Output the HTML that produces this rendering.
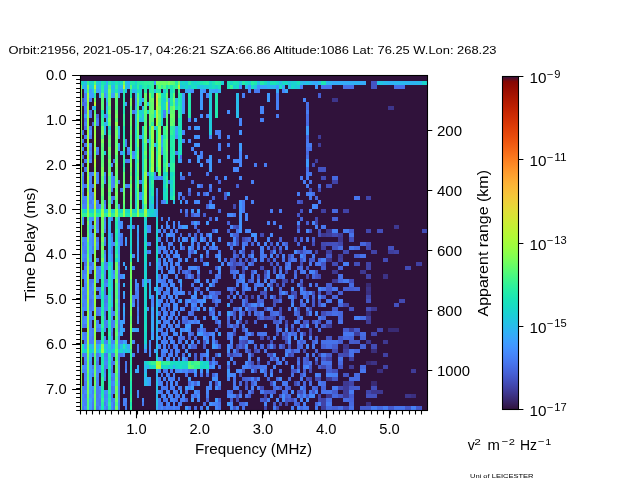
<!DOCTYPE html>
<html><head><meta charset="utf-8"><title>Ionogram</title>
<style>html,body{margin:0;padding:0;background:#fff;width:640px;height:480px;overflow:hidden}svg{display:block;font-family:"Liberation Sans",sans-serif}</style>
</head><body>
<svg width="640" height="480" viewBox="0 0 640 480" font-family="Liberation Sans, sans-serif" fill="#000"><clipPath id="axclip"><rect x="80.50" y="75.50" width="347.00" height="335.00"/></clipPath><g clip-path="url(#axclip)" shape-rendering="crispEdges"><rect x="80.50" y="75.50" width="347.00" height="335.00" fill="#30123b"/><path fill="#1fe9af" d="M79.7 81h2.3v4.1h-2.3zM132.1 81h2.4v4.1h-2.4zM115.4 89.2h2.4v4.1h-2.4zM122.6 93.3h2.4v4.2h-2.4zM122.6 101.6h2.4v4.1h-2.4zM170.3 101.6h2.4v4.1h-2.4zM122.6 126.3h2.4v4.1h-2.4zM163.2 134.5h2.3v4.1h-2.3zM148.8 138.6h2.4v4.1h-2.4zM148.8 155.1h2.4v4.1h-2.4zM170.3 155.1h2.4v4.1h-2.4zM163.2 159.2h2.3v4.1h-2.3zM151.2 188h2.4v4.1h-2.4zM165.5 196.2h2.4v4.1h-2.4zM115.4 233.3h2.4v4.1h-2.4zM108.3 274.4h2.4v4.1h-2.4zM101.1 290.9h2.4v4.1h-2.4zM101.1 299.1h2.4v4.1h-2.4zM108.3 336.1h2.4v4.1h-2.4zM122.6 344.4h2.4v4.1h-2.4zM101.1 352.6h2.4v4.1h-2.4zM108.3 356.7h2.4v4.1h-2.4zM129.8 364.9h2.3v4.2h-2.3zM101.1 373.2h2.4v4.1h-2.4zM101.1 389.6h2.4v4.1h-2.4zM129.8 389.6h2.3v4.1h-2.3z"/><path fill="#18d7ca" d="M82 81h2.4v4.1h-2.4zM110.7 81h2.4v4.1h-2.4zM117.8 81h2.4v4.1h-2.4zM209.3 85.1h3v4.1h-3zM160.8 105.7h2.4v4.1h-2.4zM153.6 109.8h2.4v4.1h-2.4zM160.8 122.2h2.4v4.1h-2.4zM134.5 138.6h2.4v4.1h-2.4zM141.7 138.6h2.4v4.1h-2.4zM141.7 159.2h2.4v4.1h-2.4zM134.5 163.3h2.4v4.1h-2.4zM148.8 175.6h2.4v4.2h-2.4zM134.5 183.9h2.4v4.1h-2.4zM163.2 196.2h2.3v4.1h-2.3zM165.5 200.3h2.4v4.1h-2.4zM127.4 208.6h2.4v4.1h-2.4zM144.1 216.8h2.4v4.1h-2.4zM156 237.4h2.4v4.1h-2.4zM129.8 249.7h2.3v4.1h-2.3zM144.1 332h2.4v4.1h-2.4zM144.1 336.1h2.4v4.1h-2.4zM177.5 360.8h2.4v4.1h-2.4zM148.8 364.9h2.4v4.2h-2.4zM170.3 364.9h2.4v4.2h-2.4zM182.2 364.9h3.1v4.2h-3.1zM203.3 364.9h3v4.2h-3z"/><path fill="#25c0e7" d="M84.4 81h2.4v4.1h-2.4zM98.7 81h2.4v4.1h-2.4zM257.4 81h3v4.1h-3zM278.5 81h3v4.1h-3zM299.5 81h3.1v4.1h-3.1zM89.2 85.1h2.4v4.1h-2.4zM110.7 85.1h2.4v4.1h-2.4zM117.8 85.1h2.4v4.1h-2.4zM197.3 85.1h3v4.1h-3zM245.4 85.1h3v4.1h-3zM134.5 118h2.4v4.2h-2.4zM103.5 151h2.4v4.1h-2.4zM172.7 200.3h2.4v4.1h-2.4zM151.2 204.4h2.4v4.2h-2.4zM108.3 233.3h2.4v4.1h-2.4zM110.7 262.1h2.4v4.1h-2.4zM156 262.1h2.4v4.1h-2.4zM156 270.3h2.4v4.1h-2.4zM110.7 282.6h2.4v4.2h-2.4zM156 290.9h2.4v4.1h-2.4zM156 385.5h2.4v4.1h-2.4z"/><path fill="#35f394" d="M86.8 81h2.4v4.1h-2.4zM160.8 85.1h2.4v4.1h-2.4zM167.9 85.1h2.4v4.1h-2.4zM230.4 85.1h3v4.1h-3zM177.5 89.2h2.4v4.1h-2.4zM177.5 113.9h2.4v4.1h-2.4zM122.6 122.2h2.4v4.1h-2.4zM148.8 130.4h2.4v4.1h-2.4zM170.3 130.4h2.4v4.1h-2.4zM163.2 138.6h2.3v4.1h-2.3zM122.6 146.8h2.4v4.2h-2.4zM172.7 163.3h2.4v4.1h-2.4zM172.7 196.2h2.4v4.1h-2.4zM129.8 253.8h2.3v4.1h-2.3zM101.1 262.1h2.4v4.1h-2.4zM101.1 315.6h2.4v4.1h-2.4zM101.1 323.8h2.4v4.1h-2.4zM153.6 360.8h2.4v4.1h-2.4zM194.3 364.9h3v4.2h-3zM101.1 397.9h2.4v4.1h-2.4z"/><path fill="#18d9c8" d="M89.2 81h4.8v4.1h-4.8zM209.3 81h3v4.1h-3zM230.4 81h3v4.1h-3zM185.3 85.1h3v4.1h-3zM290.5 85.1h3v4.1h-3zM146.5 109.8h2.3v4.1h-2.3zM153.6 113.9h2.4v4.1h-2.4zM134.5 134.5h2.4v4.1h-2.4zM177.5 142.7h2.4v4.1h-2.4zM170.3 171.5h2.4v4.1h-2.4zM163.2 183.9h2.3v4.1h-2.3zM141.7 196.2h2.4v4.1h-2.4zM134.5 200.3h2.4v4.1h-2.4zM113.1 208.6h2.3v4.1h-2.3zM120.2 208.6h2.4v4.1h-2.4zM141.7 208.6h2.4v4.1h-2.4zM151.2 208.6h2.4v4.1h-2.4zM156 220.9h2.4v4.1h-2.4zM129.8 225h2.3v4.1h-2.3zM144.1 229.1h2.4v4.2h-2.4zM129.8 233.3h2.3v4.1h-2.3zM129.8 237.4h2.3v4.1h-2.3zM129.8 241.5h2.3v4.1h-2.3zM156 241.5h2.4v4.1h-2.4zM156 245.6h2.4v4.1h-2.4zM144.1 315.6h2.4v4.1h-2.4zM144.1 319.7h2.4v4.1h-2.4zM89.2 348.5h2.4v4.1h-2.4zM206.3 360.8h3v4.1h-3zM200.3 364.9h3v4.2h-3z"/><path fill="#55fa76" d="M94 81h2.4v4.1h-2.4zM108.3 85.1h2.4v4.1h-2.4zM129.8 85.1h2.3v4.1h-2.3zM172.7 93.3h2.4v4.2h-2.4zM148.8 101.6h2.4v4.1h-2.4zM108.3 105.7h2.4v4.1h-2.4zM136.9 105.7h2.4v4.1h-2.4zM148.8 105.7h2.4v4.1h-2.4zM170.3 105.7h2.4v4.1h-2.4zM136.9 109.8h2.4v4.1h-2.4zM158.4 109.8h2.4v4.1h-2.4zM108.3 113.9h2.4v4.1h-2.4zM144.1 113.9h2.4v4.1h-2.4zM151.2 118h2.4v4.2h-2.4zM165.5 118h2.4v4.2h-2.4zM108.3 134.5h2.4v4.1h-2.4zM165.5 134.5h2.4v4.1h-2.4zM108.3 142.7h2.4v4.1h-2.4zM101.1 146.8h2.4v4.2h-2.4zM144.1 146.8h2.4v4.2h-2.4zM165.5 155.1h2.4v4.1h-2.4zM165.5 159.2h2.4v4.1h-2.4zM129.8 171.5h2.3v4.1h-2.3zM108.3 175.6h2.4v4.2h-2.4zM108.3 179.8h2.4v4.1h-2.4zM115.4 179.8h2.4v4.1h-2.4zM108.3 200.3h2.4v4.1h-2.4zM115.4 204.4h2.4v4.2h-2.4zM86.8 216.8h2.4v4.1h-2.4zM101.1 233.3h2.4v4.1h-2.4zM86.8 241.5h2.4v4.1h-2.4zM115.4 274.4h2.4v4.1h-2.4zM115.4 290.9h2.4v4.1h-2.4zM115.4 307.3h2.4v4.1h-2.4zM115.4 327.9h2.4v4.1h-2.4zM115.4 344.4h2.4v4.1h-2.4zM129.8 344.4h2.3v4.1h-2.3zM115.4 373.2h2.4v4.1h-2.4zM115.4 381.4h2.4v4.1h-2.4zM86.8 397.9h2.4v4.1h-2.4z"/><path fill="#1ccdd8" d="M96.4 81h2.3v4.1h-2.3zM185.3 81h3v4.1h-3zM293.5 85.1h3v4.1h-3zM163.2 89.2h2.3v4.1h-2.3zM94 105.7h2.4v4.1h-2.4zM160.8 113.9h2.4v4.1h-2.4zM134.5 142.7h2.4v4.1h-2.4zM141.7 142.7h2.4v4.1h-2.4zM134.5 159.2h2.4v4.1h-2.4zM134.5 167.4h2.4v4.1h-2.4zM141.7 171.5h2.4v4.1h-2.4zM163.2 179.8h2.3v4.1h-2.3zM170.3 179.8h2.4v4.1h-2.4zM141.7 192.1h2.4v4.1h-2.4zM134.5 204.4h2.4v4.2h-2.4zM96.4 208.6h2.3v4.1h-2.3zM103.5 208.6h4.8v4.1h-4.8zM151.2 212.7h2.4v4.1h-2.4zM144.1 220.9h2.4v4.1h-2.4zM144.1 225h2.4v4.1h-2.4zM144.1 237.4h2.4v4.1h-2.4zM129.8 245.6h2.3v4.1h-2.3zM144.1 266.2h2.4v4.1h-2.4zM144.1 360.8h2.4v4.1h-2.4z"/><path fill="#1de7b2" d="M101.1 81h2.4v4.1h-2.4zM115.4 81h2.4v4.1h-2.4zM233.4 81h3v4.1h-3zM320.6 81h5.6v4.1h-5.6zM141.7 85.1h2.4v4.1h-2.4zM165.5 85.1h2.4v4.1h-2.4zM170.3 85.1h2.4v4.1h-2.4zM136.9 89.2h2.4v4.1h-2.4zM170.3 93.3h2.4v4.2h-2.4zM122.6 105.7h2.4v4.1h-2.4zM101.1 109.8h2.4v4.1h-2.4zM122.6 109.8h2.4v4.1h-2.4zM177.5 118h2.4v4.2h-2.4zM122.6 130.4h2.4v4.1h-2.4zM156 142.7h2.4v4.1h-2.4zM156 146.8h2.4v4.2h-2.4zM170.3 146.8h2.4v4.2h-2.4zM170.3 151h2.4v4.1h-2.4zM172.7 155.1h2.4v4.1h-2.4zM172.7 159.2h2.4v4.1h-2.4zM156 167.4h2.4v4.1h-2.4zM165.5 171.5h2.4v4.1h-2.4zM172.7 171.5h2.4v4.1h-2.4zM151.2 175.6h2.4v4.2h-2.4zM165.5 192.1h2.4v4.1h-2.4zM125 212.7h4.8v4.1h-4.8zM146.5 212.7h2.3v4.1h-2.3zM115.4 257.9h2.4v4.2h-2.4zM108.3 262.1h2.4v4.1h-2.4zM101.1 295h2.4v4.1h-2.4zM101.1 356.7h2.4v4.1h-2.4zM108.3 369.1h2.4v4.1h-2.4zM129.8 385.5h2.3v4.1h-2.3zM108.3 393.7h2.4v4.2h-2.4zM129.8 402h2.3v4.1h-2.3z"/><path fill="#18dec0" d="M103.5 81h2.4v4.1h-2.4zM278.5 85.1h3v4.1h-3zM170.3 89.2h2.4v4.1h-2.4zM160.8 93.3h2.4v4.2h-2.4zM160.8 97.5h2.4v4.1h-2.4zM175.1 105.7h2.4v4.1h-2.4zM134.5 171.5h2.4v4.1h-2.4zM148.8 171.5h2.4v4.1h-2.4zM170.3 175.6h2.4v4.2h-2.4zM134.5 188h2.4v4.1h-2.4zM82 208.6h2.4v4.1h-2.4zM98.7 208.6h2.4v4.1h-2.4zM117.8 208.6h2.4v4.1h-2.4zM144.1 245.6h2.4v4.1h-2.4zM156 249.7h2.4v4.1h-2.4zM144.1 307.3h2.4v4.1h-2.4zM108.3 344.4h2.4v4.1h-2.4zM103.5 348.5h2.4v4.1h-2.4zM146.5 360.8h2.3v4.1h-2.3zM170.3 360.8h2.4v4.1h-2.4zM179.9 360.8h5.4v4.1h-5.4zM165.5 364.9h2.4v4.2h-2.4z"/><path fill="#2fb2f4" d="M105.9 81h2.4v4.1h-2.4zM354.4 81h5.6v4.1h-5.6zM388.2 81h5.6v4.1h-5.6zM103.5 85.1h4.8v4.1h-4.8zM113.1 85.1h2.3v4.1h-2.3zM127.4 85.1h2.4v4.1h-2.4zM266.5 85.1h3v4.1h-3zM132.1 89.2h2.4v4.1h-2.4zM103.5 126.3h2.4v4.1h-2.4zM156 208.6h2.4v4.1h-2.4zM148.8 278.5h2.4v4.1h-2.4zM156 278.5h2.4v4.1h-2.4zM148.8 282.6h2.4v4.2h-2.4zM148.8 286.8h2.4v4.1h-2.4zM153.6 286.8h2.4v4.1h-2.4zM110.7 295h2.4v4.1h-2.4zM105.9 348.5h2.4v4.1h-2.4zM146.5 364.9h2.3v4.2h-2.3zM144.1 369.1h2.4v4.1h-2.4zM156 406.1h2.4v4.1h-2.4z"/><path fill="#22ebaa" d="M108.3 81h2.4v4.1h-2.4zM129.8 81h2.3v4.1h-2.3zM139.3 81h2.4v4.1h-2.4zM203.3 81h3v4.1h-3zM260.4 81h3.1v4.1h-3.1zM129.8 89.2h2.3v4.1h-2.3zM158.4 89.2h2.4v4.1h-2.4zM177.5 93.3h2.4v4.2h-2.4zM170.3 97.5h2.4v4.1h-2.4zM148.8 126.3h2.4v4.1h-2.4zM172.7 130.4h2.4v4.1h-2.4zM172.7 134.5h2.4v4.1h-2.4zM170.3 138.6h2.4v4.1h-2.4zM148.8 142.7h2.4v4.1h-2.4zM148.8 151h2.4v4.1h-2.4zM122.6 163.3h2.4v4.1h-2.4zM172.7 179.8h2.4v4.1h-2.4zM172.7 183.9h2.4v4.1h-2.4zM165.5 188h2.4v4.1h-2.4zM151.2 192.1h2.4v4.1h-2.4zM172.7 192.1h2.4v4.1h-2.4zM98.7 212.7h2.4v4.1h-2.4zM115.4 237.4h2.4v4.1h-2.4zM115.4 245.6h2.4v4.1h-2.4zM115.4 249.7h2.4v4.1h-2.4zM108.3 278.5h2.4v4.1h-2.4zM101.1 303.2h2.4v4.1h-2.4zM101.1 307.3h2.4v4.1h-2.4zM101.1 340.2h2.4v4.2h-2.4zM108.3 360.8h2.4v4.1h-2.4zM148.8 360.8h2.4v4.1h-2.4zM129.8 369.1h2.3v4.1h-2.3zM108.3 381.4h2.4v4.1h-2.4z"/><path fill="#1bd0d5" d="M113.1 81h2.3v4.1h-2.3zM179.9 81h2.3v4.1h-2.3zM221.3 81h3.1v4.1h-3.1zM290.5 81h3v4.1h-3zM139.3 85.1h2.4v4.1h-2.4zM233.4 85.1h3v4.1h-3zM139.3 97.5h2.4v4.1h-2.4zM139.3 109.8h2.4v4.1h-2.4zM160.8 109.8h2.4v4.1h-2.4zM177.5 138.6h2.4v4.1h-2.4zM134.5 146.8h2.4v4.2h-2.4zM141.7 151h2.4v4.1h-2.4zM148.8 179.8h2.4v4.1h-2.4zM163.2 188h2.3v4.1h-2.3zM91.6 208.6h2.4v4.1h-2.4zM110.7 208.6h2.4v4.1h-2.4zM134.5 208.6h2.4v4.1h-2.4zM148.8 208.6h2.4v4.1h-2.4zM156 216.8h2.4v4.1h-2.4zM156 229.1h2.4v4.2h-2.4zM144.1 262.1h2.4v4.1h-2.4zM84.4 348.5h2.4v4.1h-2.4zM185.3 364.9h3v4.2h-3z"/><path fill="#18ddc2" d="M120.2 81h2.4v4.1h-2.4zM146.5 85.1h2.3v4.1h-2.3zM191.3 85.1h6v4.1h-6zM236.4 85.1h3v4.1h-3zM139.3 89.2h2.4v4.1h-2.4zM163.2 93.3h2.3v4.2h-2.3zM163.2 101.6h2.3v4.1h-2.3zM177.5 130.4h2.4v4.1h-2.4zM177.5 146.8h2.4v4.2h-2.4zM134.5 175.6h2.4v4.2h-2.4zM141.7 179.8h2.4v4.1h-2.4zM141.7 183.9h2.4v4.1h-2.4zM148.8 183.9h2.4v4.1h-2.4zM141.7 188h2.4v4.1h-2.4zM170.3 196.2h2.4v4.1h-2.4zM141.7 200.3h2.4v4.1h-2.4zM125 208.6h2.4v4.1h-2.4zM156 225h2.4v4.1h-2.4zM144.1 241.5h2.4v4.1h-2.4zM156 253.8h2.4v4.1h-2.4zM156 257.9h2.4v4.2h-2.4zM144.1 323.8h2.4v4.1h-2.4zM144.1 327.9h2.4v4.1h-2.4zM98.7 348.5h2.4v4.1h-2.4zM175.1 360.8h2.4v4.1h-2.4zM151.2 364.9h2.4v4.2h-2.4z"/><path fill="#71fe5f" d="M122.6 81h2.4v4.1h-2.4zM177.5 81h2.4v4.1h-2.4zM108.3 89.2h2.4v4.1h-2.4zM158.4 93.3h2.4v4.2h-2.4zM129.8 97.5h2.3v4.1h-2.3zM108.3 109.8h2.4v4.1h-2.4zM136.9 118h2.4v4.2h-2.4zM136.9 126.3h2.4v4.1h-2.4zM144.1 126.3h2.4v4.1h-2.4zM165.5 126.3h2.4v4.1h-2.4zM115.4 130.4h2.4v4.1h-2.4zM144.1 130.4h2.4v4.1h-2.4zM144.1 138.6h2.4v4.1h-2.4zM136.9 142.7h2.4v4.1h-2.4zM165.5 167.4h2.4v4.1h-2.4zM158.4 171.5h2.4v4.1h-2.4zM129.8 183.9h2.3v4.1h-2.3zM136.9 183.9h2.4v4.1h-2.4zM101.1 257.9h2.4v4.2h-2.4zM115.4 278.5h2.4v4.1h-2.4zM129.8 299.1h2.3v4.1h-2.3zM129.8 327.9h2.3v4.1h-2.3zM94 364.9h2.4v4.2h-2.4zM86.8 369.1h2.4v4.1h-2.4zM86.8 381.4h2.4v4.1h-2.4zM94 381.4h2.4v4.1h-2.4zM115.4 406.1h2.4v4.1h-2.4z"/><path fill="#23c3e4" d="M125 81h2.4v4.1h-2.4zM305.6 81h3v4.1h-3zM376.9 81h5.6v4.1h-5.6zM125 85.1h2.4v4.1h-2.4zM200.3 85.1h3v4.1h-3zM110.7 89.2h2.4v4.1h-2.4zM105.9 109.8h2.4v4.1h-2.4zM134.5 113.9h2.4v4.1h-2.4zM141.7 118h2.4v4.2h-2.4zM156 266.2h2.4v4.1h-2.4zM156 295h2.4v4.1h-2.4zM110.7 303.2h2.4v4.1h-2.4zM156 319.7h2.4v4.1h-2.4zM91.6 348.5h2.4v4.1h-2.4zM117.8 348.5h2.4v4.1h-2.4zM144.1 364.9h2.4v4.2h-2.4zM144.1 373.2h2.4v4.1h-2.4zM156 389.6h2.4v4.1h-2.4zM156 402h2.4v4.1h-2.4z"/><path fill="#2eb4f2" d="M127.4 81h2.4v4.1h-2.4zM326.2 81h5.7v4.1h-5.7zM410.7 81h5.6v4.1h-5.6zM96.4 85.1h2.3v4.1h-2.3zM269.5 85.1h6v4.1h-6zM209.3 89.2h3v4.1h-3zM105.9 93.3h2.4v4.2h-2.4zM139.3 101.6h2.4v4.1h-2.4zM134.5 105.7h2.4v4.1h-2.4zM117.8 130.4h2.4v4.1h-2.4zM108.3 216.8h2.4v4.1h-2.4zM110.7 299.1h2.4v4.1h-2.4zM156 315.6h2.4v4.1h-2.4zM156 332h2.4v4.1h-2.4zM156 348.5h2.4v4.1h-2.4z"/><path fill="#1ad4d0" d="M134.5 81h2.4v4.1h-2.4zM194.3 81h3v4.1h-3zM248.4 81h3v4.1h-3zM293.5 81h3v4.1h-3zM91.6 85.1h2.4v4.1h-2.4zM132.1 85.1h2.4v4.1h-2.4zM141.7 109.8h2.4v4.1h-2.4zM177.5 134.5h2.4v4.1h-2.4zM122.6 151h2.4v4.1h-2.4zM134.5 151h2.4v4.1h-2.4zM177.5 151h2.4v4.1h-2.4zM141.7 155.1h2.4v4.1h-2.4zM134.5 192.1h2.4v4.1h-2.4zM170.3 192.1h2.4v4.1h-2.4zM151.2 196.2h2.4v4.1h-2.4zM84.4 208.6h2.4v4.1h-2.4zM129.8 216.8h2.3v4.1h-2.3zM156 233.3h2.4v4.1h-2.4zM144.1 270.3h2.4v4.1h-2.4zM144.1 311.4h2.4v4.2h-2.4zM144.1 340.2h2.4v4.2h-2.4zM82 344.4h2.4v4.1h-2.4zM82 348.5h2.4v4.1h-2.4zM125 348.5h2.4v4.1h-2.4zM156 356.7h2.4v4.1h-2.4z"/><path fill="#25eca7" d="M136.9 81h2.4v4.1h-2.4zM141.7 81h2.4v4.1h-2.4zM175.1 81h2.4v4.1h-2.4zM188.3 81h3v4.1h-3zM218.3 81h3v4.1h-3zM242.4 81h3v4.1h-3zM251.4 81h3v4.1h-3zM144.1 85.1h2.4v4.1h-2.4zM144.1 89.2h2.4v4.1h-2.4zM156 89.2h2.4v4.1h-2.4zM129.8 93.3h2.3v4.2h-2.3zM177.5 97.5h2.4v4.1h-2.4zM101.1 113.9h2.4v4.1h-2.4zM177.5 122.2h2.4v4.1h-2.4zM148.8 134.5h2.4v4.1h-2.4zM156 134.5h2.4v4.1h-2.4zM170.3 142.7h2.4v4.1h-2.4zM163.2 155.1h2.3v4.1h-2.3zM148.8 163.3h2.4v4.1h-2.4zM172.7 175.6h2.4v4.2h-2.4zM151.2 183.9h2.4v4.1h-2.4zM172.7 188h2.4v4.1h-2.4zM96.4 212.7h2.3v4.1h-2.3zM110.7 212.7h2.4v4.1h-2.4zM117.8 212.7h2.4v4.1h-2.4zM101.1 270.3h2.4v4.1h-2.4zM101.1 282.6h2.4v4.2h-2.4zM108.3 290.9h2.4v4.1h-2.4zM108.3 323.8h2.4v4.1h-2.4zM108.3 327.9h2.4v4.1h-2.4zM129.8 356.7h2.3v4.1h-2.3zM108.3 373.2h2.4v4.1h-2.4zM108.3 377.3h2.4v4.1h-2.4zM101.1 393.7h2.4v4.2h-2.4zM108.3 397.9h2.4v4.1h-2.4zM108.3 406.1h2.4v4.1h-2.4z"/><path fill="#2cf09e" d="M144.1 81h2.4v4.1h-2.4zM151.2 81h2.4v4.1h-2.4zM151.2 89.2h2.4v4.1h-2.4zM165.5 89.2h2.4v4.1h-2.4zM172.7 146.8h2.4v4.2h-2.4zM156 151h2.4v4.1h-2.4zM122.6 155.1h2.4v4.1h-2.4zM156 159.2h2.4v4.1h-2.4zM163.2 163.3h2.3v4.1h-2.3zM89.2 212.7h2.4v4.1h-2.4zM103.5 212.7h2.4v4.1h-2.4zM101.1 311.4h2.4v4.2h-2.4zM101.1 319.7h2.4v4.1h-2.4zM101.1 336.1h2.4v4.1h-2.4zM108.3 340.2h2.4v4.2h-2.4zM165.5 360.8h2.4v4.1h-2.4zM129.8 377.3h2.3v4.1h-2.3z"/><path fill="#2aefa1" d="M146.5 81h2.3v4.1h-2.3zM215.3 81h3v4.1h-3zM101.1 85.1h2.4v4.1h-2.4zM122.6 89.2h2.4v4.1h-2.4zM172.7 89.2h2.4v4.1h-2.4zM177.5 101.6h2.4v4.1h-2.4zM170.3 126.3h2.4v4.1h-2.4zM156 138.6h2.4v4.1h-2.4zM172.7 138.6h2.4v4.1h-2.4zM122.6 142.7h2.4v4.1h-2.4zM170.3 163.3h2.4v4.1h-2.4zM148.8 167.4h2.4v4.1h-2.4zM170.3 167.4h2.4v4.1h-2.4zM165.5 179.8h2.4v4.1h-2.4zM139.3 212.7h2.4v4.1h-2.4zM115.4 229.1h2.4v4.2h-2.4zM129.8 257.9h2.3v4.2h-2.3zM108.3 266.2h2.4v4.1h-2.4zM108.3 311.4h2.4v4.2h-2.4zM108.3 315.6h2.4v4.1h-2.4zM108.3 319.7h2.4v4.1h-2.4zM108.3 352.6h2.4v4.1h-2.4zM108.3 364.9h2.4v4.2h-2.4zM129.8 373.2h2.3v4.1h-2.3zM108.3 385.5h2.4v4.1h-2.4z"/><path fill="#2ff19b" d="M148.8 81h2.4v4.1h-2.4zM115.4 85.1h2.4v4.1h-2.4zM136.9 85.1h2.4v4.1h-2.4zM151.2 85.1h2.4v4.1h-2.4zM101.1 89.2h2.4v4.1h-2.4zM177.5 109.8h2.4v4.1h-2.4zM122.6 118h2.4v4.2h-2.4zM101.1 122.2h2.4v4.1h-2.4zM148.8 146.8h2.4v4.2h-2.4zM163.2 151h2.3v4.1h-2.3zM156 163.3h2.4v4.1h-2.4zM172.7 167.4h2.4v4.1h-2.4zM151.2 171.5h2.4v4.1h-2.4zM151.2 179.8h2.4v4.1h-2.4zM82 212.7h4.8v4.1h-4.8zM113.1 212.7h2.3v4.1h-2.3zM132.1 212.7h2.4v4.1h-2.4zM115.4 216.8h2.4v4.1h-2.4zM101.1 266.2h2.4v4.1h-2.4zM101.1 278.5h2.4v4.1h-2.4zM101.1 286.8h2.4v4.1h-2.4zM108.3 295h2.4v4.1h-2.4zM108.3 299.1h2.4v4.1h-2.4zM108.3 307.3h2.4v4.1h-2.4zM108.3 332h2.4v4.1h-2.4zM129.8 352.6h2.3v4.1h-2.3zM191.3 360.8h3v4.1h-3zM101.1 381.4h2.4v4.1h-2.4zM108.3 389.6h2.4v4.1h-2.4zM129.8 397.9h2.3v4.1h-2.3z"/><path fill="#3e9bfe" d="M153.6 81h2.4v4.1h-2.4zM275.5 85.1h3v4.1h-3zM314.6 85.1h3v4.1h-3zM89.2 89.2h2.4v4.1h-2.4zM215.3 89.2h3v4.1h-3zM113.1 93.3h2.3v4.2h-2.3zM182.2 93.3h3.1v4.2h-3.1zM200.3 93.3h3v4.2h-3zM266.5 93.3h3v4.2h-3zM182.2 97.5h3.1v4.1h-3.1zM200.3 97.5h3v4.1h-3zM266.5 97.5h3v4.1h-3zM182.2 101.6h3.1v4.1h-3.1zM200.3 101.6h3v4.1h-3zM182.2 105.7h3.1v4.1h-3.1zM200.3 105.7h3v4.1h-3zM182.2 109.8h3.1v4.1h-3.1zM194.3 118h3v4.2h-3zM194.3 126.3h6v4.1h-6zM305.6 126.3h3v4.1h-3zM305.6 130.4h3v4.1h-3zM239.4 142.7h3v4.1h-3zM239.4 146.8h3v4.2h-3zM197.3 155.1h3v4.1h-3zM209.3 155.1h3v4.1h-3zM179.9 159.2h2.3v4.1h-2.3zM197.3 159.2h3v4.1h-3zM209.3 159.2h3v4.1h-3zM305.6 159.2h3v4.1h-3zM209.3 163.3h3v4.1h-3zM305.6 163.3h3v4.1h-3zM209.3 167.4h3v4.1h-3zM197.3 208.6h3v4.1h-3zM89.2 220.9h2.4v4.1h-2.4zM194.3 220.9h3v4.1h-3zM185.3 225h3v4.1h-3zM136.9 233.3h2.4v4.1h-2.4zM209.3 233.3h3v4.1h-3zM125 237.4h2.4v4.1h-2.4zM136.9 253.8h2.4v4.1h-2.4zM188.3 323.8h3v4.1h-3zM200.3 323.8h3v4.1h-3zM122.6 327.9h2.4v4.1h-2.4zM179.9 327.9h2.3v4.1h-2.3zM84.4 344.4h2.4v4.1h-2.4zM188.3 352.6h3v4.1h-3zM194.3 369.1h3v4.1h-3zM89.2 385.5h2.4v4.1h-2.4zM215.3 397.9h3v4.1h-3z"/><path fill="#75fe5c" d="M156 81h2.4v4.1h-2.4zM167.9 81h2.4v4.1h-2.4zM86.8 85.1h2.4v4.1h-2.4zM148.8 93.3h2.4v4.2h-2.4zM129.8 101.6h2.3v4.1h-2.3zM158.4 105.7h2.4v4.1h-2.4zM94 113.9h2.4v4.1h-2.4zM115.4 113.9h2.4v4.1h-2.4zM101.1 130.4h2.4v4.1h-2.4zM115.4 134.5h2.4v4.1h-2.4zM136.9 138.6h2.4v4.1h-2.4zM108.3 146.8h2.4v4.2h-2.4zM115.4 163.3h2.4v4.1h-2.4zM101.1 167.4h2.4v4.1h-2.4zM101.1 171.5h2.4v4.1h-2.4zM108.3 171.5h2.4v4.1h-2.4zM129.8 175.6h2.3v4.2h-2.3zM115.4 183.9h2.4v4.1h-2.4zM115.4 192.1h2.4v4.1h-2.4zM129.8 192.1h2.3v4.1h-2.3zM136.9 204.4h2.4v4.2h-2.4zM86.8 220.9h2.4v4.1h-2.4zM86.8 237.4h2.4v4.1h-2.4zM101.1 237.4h2.4v4.1h-2.4zM101.1 245.6h2.4v4.1h-2.4zM86.8 257.9h2.4v4.2h-2.4zM129.8 274.4h2.3v4.1h-2.3zM129.8 311.4h2.3v4.2h-2.3zM129.8 323.8h2.3v4.1h-2.3zM94 373.2h2.4v4.1h-2.4zM86.8 389.6h2.4v4.1h-2.4zM94 393.7h2.4v4.2h-2.4zM115.4 393.7h2.4v4.2h-2.4z"/><path fill="#65fd69" d="M158.4 81h4.8v4.1h-4.8zM165.5 93.3h2.4v4.2h-2.4zM151.2 105.7h2.4v4.1h-2.4zM115.4 109.8h2.4v4.1h-2.4zM129.8 109.8h2.3v4.1h-2.3zM158.4 113.9h2.4v4.1h-2.4zM172.7 113.9h2.4v4.1h-2.4zM172.7 118h2.4v4.2h-2.4zM129.8 122.2h2.3v4.1h-2.3zM170.3 122.2h2.4v4.1h-2.4zM136.9 130.4h2.4v4.1h-2.4zM129.8 138.6h2.3v4.1h-2.3zM165.5 138.6h2.4v4.1h-2.4zM115.4 142.7h2.4v4.1h-2.4zM129.8 142.7h2.3v4.1h-2.3zM165.5 163.3h2.4v4.1h-2.4zM144.1 167.4h2.4v4.1h-2.4zM115.4 171.5h2.4v4.1h-2.4zM101.1 179.8h2.4v4.1h-2.4zM129.8 188h2.3v4.1h-2.3zM101.1 192.1h2.4v4.1h-2.4zM122.6 192.1h2.4v4.1h-2.4zM136.9 192.1h2.4v4.1h-2.4zM136.9 196.2h2.4v4.1h-2.4zM122.6 200.3h2.4v4.1h-2.4zM101.1 204.4h2.4v4.2h-2.4zM101.1 225h2.4v4.1h-2.4zM86.8 233.3h2.4v4.1h-2.4zM115.4 299.1h2.4v4.1h-2.4zM115.4 315.6h2.4v4.1h-2.4zM115.4 323.8h2.4v4.1h-2.4zM115.4 332h2.4v4.1h-2.4zM115.4 348.5h2.4v4.1h-2.4zM115.4 352.6h2.4v4.1h-2.4zM86.8 356.7h2.4v4.1h-2.4zM94 377.3h2.4v4.1h-2.4zM115.4 377.3h2.4v4.1h-2.4zM115.4 389.6h2.4v4.1h-2.4zM86.8 393.7h2.4v4.2h-2.4z"/><path fill="#69fd66" d="M163.2 81h2.3v4.1h-2.3zM115.4 93.3h2.4v4.2h-2.4zM94 97.5h2.4v4.1h-2.4zM108.3 97.5h2.4v4.1h-2.4zM136.9 97.5h2.4v4.1h-2.4zM151.2 97.5h2.4v4.1h-2.4zM151.2 109.8h2.4v4.1h-2.4zM136.9 113.9h2.4v4.1h-2.4zM165.5 113.9h2.4v4.1h-2.4zM108.3 118h2.4v4.2h-2.4zM129.8 118h2.3v4.2h-2.3zM129.8 130.4h2.3v4.1h-2.3zM144.1 134.5h2.4v4.1h-2.4zM165.5 142.7h2.4v4.1h-2.4zM115.4 146.8h2.4v4.2h-2.4zM108.3 151h2.4v4.1h-2.4zM144.1 151h2.4v4.1h-2.4zM129.8 155.1h2.3v4.1h-2.3zM136.9 155.1h2.4v4.1h-2.4zM144.1 159.2h2.4v4.1h-2.4zM136.9 163.3h2.4v4.1h-2.4zM144.1 163.3h2.4v4.1h-2.4zM115.4 167.4h2.4v4.1h-2.4zM129.8 167.4h2.3v4.1h-2.3zM101.1 188h2.4v4.1h-2.4zM108.3 196.2h2.4v4.1h-2.4zM115.4 196.2h2.4v4.1h-2.4zM129.8 196.2h2.3v4.1h-2.3zM101.1 220.9h2.4v4.1h-2.4zM86.8 253.8h2.4v4.1h-2.4zM115.4 262.1h2.4v4.1h-2.4zM129.8 262.1h2.3v4.1h-2.3zM129.8 290.9h2.3v4.1h-2.3zM129.8 307.3h2.3v4.1h-2.3zM129.8 332h2.3v4.1h-2.3zM115.4 364.9h2.4v4.2h-2.4zM94 369.1h2.4v4.1h-2.4zM115.4 397.9h2.4v4.1h-2.4zM94 406.1h2.4v4.1h-2.4z"/><path fill="#5dfc6f" d="M165.5 81h2.4v4.1h-2.4zM158.4 85.1h2.4v4.1h-2.4zM86.8 89.2h2.4v4.1h-2.4zM94 89.2h2.4v4.1h-2.4zM136.9 101.6h2.4v4.1h-2.4zM158.4 101.6h2.4v4.1h-2.4zM172.7 109.8h2.4v4.1h-2.4zM148.8 113.9h2.4v4.1h-2.4zM115.4 118h2.4v4.2h-2.4zM148.8 118h2.4v4.2h-2.4zM158.4 118h2.4v4.2h-2.4zM170.3 118h2.4v4.2h-2.4zM101.1 126.3h2.4v4.1h-2.4zM115.4 126.3h2.4v4.1h-2.4zM136.9 151h2.4v4.1h-2.4zM136.9 171.5h2.4v4.1h-2.4zM115.4 175.6h2.4v4.2h-2.4zM122.6 179.8h2.4v4.1h-2.4zM122.6 188h2.4v4.1h-2.4zM86.8 229.1h2.4v4.2h-2.4zM101.1 249.7h2.4v4.1h-2.4zM129.8 319.7h2.3v4.1h-2.3zM129.8 340.2h2.3v4.2h-2.3zM188.3 364.9h3v4.2h-3zM86.8 373.2h2.4v4.1h-2.4zM94 389.6h2.4v4.1h-2.4z"/><path fill="#61fc6c" d="M170.3 81h2.4v4.1h-2.4zM101.1 93.3h2.4v4.2h-2.4zM108.3 93.3h2.4v4.2h-2.4zM144.1 93.3h2.4v4.2h-2.4zM148.8 97.5h2.4v4.1h-2.4zM144.1 101.6h2.4v4.1h-2.4zM151.2 101.6h2.4v4.1h-2.4zM170.3 109.8h2.4v4.1h-2.4zM148.8 122.2h2.4v4.1h-2.4zM108.3 138.6h2.4v4.1h-2.4zM115.4 138.6h2.4v4.1h-2.4zM101.1 142.7h2.4v4.1h-2.4zM115.4 159.2h2.4v4.1h-2.4zM101.1 163.3h2.4v4.1h-2.4zM108.3 167.4h2.4v4.1h-2.4zM108.3 183.9h2.4v4.1h-2.4zM115.4 188h2.4v4.1h-2.4zM101.1 200.3h2.4v4.1h-2.4zM129.8 204.4h2.3v4.2h-2.3zM144.1 204.4h2.4v4.2h-2.4zM115.4 270.3h2.4v4.1h-2.4zM129.8 295h2.3v4.1h-2.3zM129.8 303.2h2.3v4.1h-2.3zM94 352.6h2.4v4.1h-2.4zM86.8 377.3h2.4v4.1h-2.4z"/><path fill="#59fb73" d="M172.7 81h2.4v4.1h-2.4zM136.9 93.3h2.4v4.2h-2.4zM115.4 97.5h2.4v4.1h-2.4zM144.1 97.5h2.4v4.1h-2.4zM101.1 101.6h2.4v4.1h-2.4zM115.4 101.6h2.4v4.1h-2.4zM172.7 101.6h2.4v4.1h-2.4zM101.1 105.7h2.4v4.1h-2.4zM129.8 105.7h2.3v4.1h-2.3zM144.1 105.7h2.4v4.1h-2.4zM148.8 109.8h2.4v4.1h-2.4zM129.8 113.9h2.3v4.1h-2.3zM165.5 130.4h2.4v4.1h-2.4zM129.8 134.5h2.3v4.1h-2.3zM136.9 134.5h2.4v4.1h-2.4zM165.5 151h2.4v4.1h-2.4zM108.3 155.1h2.4v4.1h-2.4zM101.1 159.2h2.4v4.1h-2.4zM108.3 163.3h2.4v4.1h-2.4zM122.6 171.5h2.4v4.1h-2.4zM101.1 175.6h2.4v4.2h-2.4zM122.6 175.6h2.4v4.2h-2.4zM136.9 179.8h2.4v4.1h-2.4zM136.9 188h2.4v4.1h-2.4zM122.6 196.2h2.4v4.1h-2.4zM86.8 225h2.4v4.1h-2.4zM101.1 241.5h2.4v4.1h-2.4zM86.8 245.6h2.4v4.1h-2.4zM129.8 266.2h2.3v4.1h-2.3zM129.8 282.6h2.3v4.2h-2.3zM129.8 286.8h2.3v4.1h-2.3zM115.4 311.4h2.4v4.2h-2.4zM129.8 315.6h2.3v4.1h-2.3z"/><path fill="#18dbc5" d="M182.2 81h3.1v4.1h-3.1zM191.3 81h3v4.1h-3zM275.5 81h3v4.1h-3zM281.5 81h6v4.1h-6zM251.4 85.1h3v4.1h-3zM163.2 105.7h2.3v4.1h-2.3zM139.3 113.9h2.4v4.1h-2.4zM160.8 118h2.4v4.2h-2.4zM141.7 126.3h2.4v4.1h-2.4zM177.5 126.3h2.4v4.1h-2.4zM134.5 155.1h2.4v4.1h-2.4zM177.5 155.1h2.4v4.1h-2.4zM163.2 175.6h2.3v4.2h-2.3zM134.5 179.8h2.4v4.1h-2.4zM163.2 192.1h2.3v4.1h-2.3zM148.8 196.2h2.4v4.1h-2.4zM151.2 200.3h2.4v4.1h-2.4zM132.1 208.6h2.4v4.1h-2.4zM144.1 253.8h2.4v4.1h-2.4zM144.1 257.9h2.4v4.2h-2.4zM144.1 286.8h2.4v4.1h-2.4zM172.7 360.8h2.4v4.1h-2.4zM185.3 360.8h3v4.1h-3zM153.6 364.9h2.4v4.2h-2.4zM163.2 364.9h2.3v4.2h-2.3zM177.5 364.9h2.4v4.2h-2.4z"/><path fill="#18e0bd" d="M197.3 81h3v4.1h-3zM245.4 81h3v4.1h-3zM263.5 81h3v4.1h-3zM212.3 85.1h3v4.1h-3zM200.3 360.8h3v4.1h-3zM179.9 364.9h2.3v4.2h-2.3z"/><path fill="#1ce6b4" d="M200.3 81h3v4.1h-3zM212.3 81h3v4.1h-3zM254.4 81h3v4.1h-3z"/><path fill="#27eea4" d="M206.3 81h3v4.1h-3zM148.8 89.2h2.4v4.1h-2.4zM122.6 97.5h2.4v4.1h-2.4zM172.7 126.3h2.4v4.1h-2.4zM156 130.4h2.4v4.1h-2.4zM172.7 142.7h2.4v4.1h-2.4zM172.7 151h2.4v4.1h-2.4zM156 155.1h2.4v4.1h-2.4zM148.8 159.2h2.4v4.1h-2.4zM105.9 212.7h2.4v4.1h-2.4zM134.5 212.7h2.4v4.1h-2.4zM141.7 212.7h2.4v4.1h-2.4zM108.3 286.8h2.4v4.1h-2.4zM108.3 303.2h2.4v4.1h-2.4zM101.1 332h2.4v4.1h-2.4zM129.8 360.8h2.3v4.1h-2.3zM101.1 364.9h2.4v4.2h-2.4zM129.8 393.7h2.3v4.2h-2.3zM101.1 402h2.4v4.1h-2.4zM129.8 406.1h2.3v4.1h-2.3z"/><path fill="#1ae4b6" d="M227.4 81h3v4.1h-3zM272.5 81h3v4.1h-3zM206.3 364.9h3v4.2h-3z"/><path fill="#19e3b9" d="M236.4 81h3v4.1h-3zM269.5 81h3v4.1h-3zM227.4 85.1h3v4.1h-3zM179.9 93.3h2.3v4.2h-2.3zM179.9 97.5h2.3v4.1h-2.3zM179.9 101.6h2.3v4.1h-2.3zM179.9 105.7h2.3v4.1h-2.3zM179.9 109.8h2.3v4.1h-2.3zM179.9 113.9h2.3v4.1h-2.3zM179.9 118h2.3v4.2h-2.3zM179.9 122.2h2.3v4.1h-2.3zM179.9 126.3h2.3v4.1h-2.3zM179.9 130.4h2.3v4.1h-2.3zM179.9 134.5h2.3v4.1h-2.3zM179.9 138.6h2.3v4.1h-2.3zM179.9 142.7h2.3v4.1h-2.3zM179.9 146.8h2.3v4.2h-2.3zM179.9 151h2.3v4.1h-2.3z"/><path fill="#1ecbda" d="M239.4 81h3v4.1h-3zM182.2 85.1h3.1v4.1h-3.1zM203.3 85.1h6v4.1h-6zM209.3 93.3h3v4.2h-3zM163.2 97.5h2.3v4.1h-2.3zM209.3 97.5h3v4.1h-3zM209.3 101.6h3v4.1h-3zM209.3 105.7h3v4.1h-3zM209.3 109.8h3v4.1h-3zM209.3 113.9h3v4.1h-3zM209.3 118h3v4.2h-3zM209.3 122.2h3v4.1h-3zM209.3 126.3h3v4.1h-3zM141.7 130.4h2.4v4.1h-2.4zM209.3 130.4h3v4.1h-3zM141.7 146.8h2.4v4.2h-2.4zM170.3 188h2.4v4.1h-2.4zM148.8 192.1h2.4v4.1h-2.4zM134.5 196.2h2.4v4.1h-2.4zM144.1 278.5h2.4v4.1h-2.4zM108.3 348.5h2.4v4.1h-2.4zM156 352.6h2.4v4.1h-2.4zM167.9 364.9h2.4v4.2h-2.4z"/><path fill="#1fc9dd" d="M266.5 81h3v4.1h-3z"/><path fill="#20c7df" d="M287.5 81h3v4.1h-3zM175.1 101.6h2.4v4.1h-2.4zM153.6 212.7h2.4v4.1h-2.4zM108.3 241.5h2.4v4.1h-2.4zM156 369.1h2.4v4.1h-2.4z"/><path fill="#19e2bb" d="M296.5 81h3v4.1h-3zM218.3 85.1h3v4.1h-3z"/><path fill="#2cb7f0" d="M302.6 81h3v4.1h-3zM308.6 81h3v4.1h-3zM393.8 81h5.6v4.1h-5.6zM405.1 81h5.6v4.1h-5.6zM120.2 85.1h2.4v4.1h-2.4zM117.8 89.2h2.4v4.1h-2.4zM153.6 89.2h2.4v4.1h-2.4zM218.3 89.2h3v4.1h-3zM141.7 105.7h2.4v4.1h-2.4zM105.9 122.2h2.4v4.1h-2.4zM153.6 126.3h2.4v4.1h-2.4zM108.3 225h2.4v4.1h-2.4zM108.3 253.8h2.4v4.1h-2.4zM110.7 270.3h2.4v4.1h-2.4zM156 282.6h2.4v4.2h-2.4zM122.6 348.5h2.4v4.1h-2.4zM156 377.3h2.4v4.1h-2.4zM156 393.7h2.4v4.2h-2.4z"/><path fill="#33adf7" d="M311.6 81h3v4.1h-3zM337.5 81h5.6v4.1h-5.6zM84.4 85.1h2.4v4.1h-2.4zM98.7 93.3h2.4v4.2h-2.4zM134.5 93.3h2.4v4.2h-2.4zM103.5 122.2h2.4v4.1h-2.4zM160.8 142.7h2.4v4.1h-2.4zM177.5 159.2h2.4v4.1h-2.4zM156 212.7h2.4v4.1h-2.4zM108.3 249.7h2.4v4.1h-2.4zM136.9 257.9h2.4v4.2h-2.4zM122.6 282.6h2.4v4.2h-2.4zM122.6 307.3h2.4v4.1h-2.4zM151.2 327.9h2.4v4.1h-2.4zM91.6 344.4h2.4v4.1h-2.4zM89.2 352.6h2.4v4.1h-2.4zM156 373.2h2.4v4.1h-2.4z"/><path fill="#37a8fa" d="M314.6 81h3v4.1h-3zM98.7 89.2h2.4v4.1h-2.4zM103.5 89.2h2.4v4.1h-2.4zM185.3 89.2h3v4.1h-3zM212.3 89.2h3v4.1h-3zM275.5 89.2h3v4.1h-3zM153.6 142.7h2.4v4.1h-2.4zM117.8 216.8h2.4v4.1h-2.4zM136.9 229.1h2.4v4.2h-2.4zM167.9 233.3h2.4v4.1h-2.4zM117.8 241.5h2.4v4.1h-2.4zM136.9 241.5h2.4v4.1h-2.4zM117.8 253.8h2.4v4.1h-2.4zM117.8 257.9h2.4v4.2h-2.4zM122.6 290.9h2.4v4.1h-2.4zM151.2 307.3h2.4v4.1h-2.4zM151.2 319.7h2.4v4.1h-2.4zM151.2 323.8h2.4v4.1h-2.4zM120.2 327.9h2.4v4.1h-2.4zM132.1 327.9h2.4v4.1h-2.4zM105.9 344.4h2.4v4.1h-2.4zM127.4 344.4h2.4v4.1h-2.4zM89.2 377.3h2.4v4.1h-2.4zM89.2 381.4h2.4v4.1h-2.4z"/><path fill="#28bceb" d="M317.6 81h3v4.1h-3zM82 85.1h2.4v4.1h-2.4zM287.5 85.1h3v4.1h-3zM134.5 89.2h2.4v4.1h-2.4zM236.4 93.3h3v4.2h-3zM105.9 97.5h2.4v4.1h-2.4zM175.1 97.5h2.4v4.1h-2.4zM236.4 97.5h3v4.1h-3zM236.4 101.6h3v4.1h-3zM105.9 105.7h2.4v4.1h-2.4zM236.4 105.7h3v4.1h-3zM236.4 109.8h3v4.1h-3zM236.4 113.9h3v4.1h-3zM141.7 204.4h2.4v4.2h-2.4zM156 286.8h2.4v4.1h-2.4zM148.8 290.9h2.4v4.1h-2.4zM148.8 295h2.4v4.1h-2.4zM156 299.1h2.4v4.1h-2.4zM156 303.2h2.4v4.1h-2.4zM156 327.9h2.4v4.1h-2.4zM120.2 344.4h2.4v4.1h-2.4zM144.1 381.4h2.4v4.1h-2.4z"/><path fill="#35abf8" d="M331.9 81h5.6v4.1h-5.6zM343.1 81h5.7v4.1h-5.7zM360 81h5.6v4.1h-5.6zM84.4 89.2h2.4v4.1h-2.4zM91.6 105.7h2.4v4.1h-2.4zM134.5 109.8h2.4v4.1h-2.4zM117.8 142.7h2.4v4.1h-2.4zM117.8 229.1h2.4v4.2h-2.4zM117.8 245.6h2.4v4.1h-2.4zM89.2 257.9h2.4v4.2h-2.4zM120.2 332h2.4v4.1h-2.4zM151.2 336.1h2.4v4.1h-2.4zM89.2 356.7h2.4v4.1h-2.4zM146.5 381.4h2.3v4.1h-2.3zM89.2 397.9h2.4v4.1h-2.4z"/><path fill="#31aff5" d="M348.8 81h5.6v4.1h-5.6zM281.5 85.1h3v4.1h-3zM117.8 126.3h2.4v4.1h-2.4zM108.3 229.1h2.4v4.2h-2.4zM110.7 266.2h2.4v4.1h-2.4zM110.7 290.9h2.4v4.1h-2.4zM156 336.1h2.4v4.1h-2.4zM156 340.2h2.4v4.2h-2.4zM113.1 344.4h2.3v4.1h-2.3z"/><path fill="#4454c3" d="M371.3 81h5.6v4.1h-5.6zM371.3 85.1h5.6v4.1h-5.6zM317.6 167.4h8.6v4.1h-8.6zM299.5 208.6h3.1v4.1h-3.1zM317.6 229.1h3v4.2h-3zM230.4 241.5h3v4.1h-3zM331.9 245.6h5.6v4.1h-5.6zM236.4 253.8h3v4.1h-3zM287.5 253.8h3v4.1h-3zM320.6 262.1h5.6v4.1h-5.6zM242.4 266.2h3v4.1h-3zM269.5 282.6h3v4.2h-3zM263.5 290.9h3v4.1h-3zM272.5 295h3v4.1h-3zM230.4 299.1h3v4.1h-3zM317.6 303.2h3v4.1h-3zM348.8 307.3h5.6v4.1h-5.6zM257.4 315.6h3v4.1h-3zM269.5 315.6h3v4.1h-3zM233.4 323.8h3v4.1h-3zM302.6 323.8h3v4.1h-3zM326.2 336.1h5.7v4.1h-5.7zM266.5 344.4h3v4.1h-3zM290.5 348.5h3v4.1h-3zM343.1 373.2h5.7v4.1h-5.7zM239.4 389.6h3v4.1h-3zM296.5 389.6h3v4.1h-3zM311.6 389.6h3v4.1h-3z"/><path fill="#2ab9ee" d="M382.5 81h5.7v4.1h-5.7zM399.4 81h5.7v4.1h-5.7zM416.3 81h5.6v4.1h-5.6zM91.6 89.2h2.4v4.1h-2.4zM105.9 89.2h2.4v4.1h-2.4zM141.7 113.9h2.4v4.1h-2.4zM105.9 118h2.4v4.2h-2.4zM103.5 130.4h2.4v4.1h-2.4zM108.3 257.9h2.4v4.2h-2.4zM110.7 274.4h2.4v4.1h-2.4zM156 323.8h2.4v4.1h-2.4zM103.5 344.4h2.4v4.1h-2.4zM144.1 344.4h2.4v4.1h-2.4zM96.4 348.5h2.3v4.1h-2.3zM172.7 364.9h2.4v4.2h-2.4zM144.1 377.3h2.4v4.1h-2.4z"/><path fill="#19d5cd" d="M421.9 81h5.7v4.1h-5.7zM134.5 85.1h2.4v4.1h-2.4zM215.3 85.1h3v4.1h-3zM139.3 93.3h2.4v4.2h-2.4zM108.3 126.3h2.4v4.1h-2.4zM134.5 130.4h2.4v4.1h-2.4zM141.7 167.4h2.4v4.1h-2.4zM163.2 171.5h2.3v4.1h-2.3zM141.7 175.6h2.4v4.2h-2.4zM170.3 183.9h2.4v4.1h-2.4zM89.2 208.6h2.4v4.1h-2.4zM146.5 208.6h2.3v4.1h-2.3zM148.8 212.7h2.4v4.1h-2.4zM144.1 233.3h2.4v4.1h-2.4zM144.1 274.4h2.4v4.1h-2.4zM144.1 290.9h2.4v4.1h-2.4zM144.1 295h2.4v4.1h-2.4zM113.1 348.5h2.3v4.1h-2.3zM120.2 348.5h2.4v4.1h-2.4zM175.1 364.9h2.4v4.2h-2.4z"/><path fill="#84ff51" d="M79.7 85.1h2.3v4.1h-2.3zM79.7 138.6h2.3v4.1h-2.3zM151.2 138.6h2.4v4.1h-2.4zM79.7 142.7h2.3v4.1h-2.3zM94 155.1h2.4v4.1h-2.4zM79.7 159.2h2.3v4.1h-2.3zM86.8 200.3h2.4v4.1h-2.4zM108.3 208.6h2.4v4.1h-2.4zM129.8 212.7h2.3v4.1h-2.3zM94 278.5h2.4v4.1h-2.4zM79.7 299.1h2.3v4.1h-2.3zM79.7 323.8h2.3v4.1h-2.3zM79.7 352.6h2.3v4.1h-2.3zM79.7 356.7h2.3v4.1h-2.3zM79.7 369.1h2.3v4.1h-2.3z"/><path fill="#affa37" d="M94 85.1h2.4v4.1h-2.4zM156 118h2.4v4.2h-2.4z"/><path fill="#27bee9" d="M98.7 85.1h2.4v4.1h-2.4zM113.1 89.2h2.3v4.1h-2.3zM146.5 101.6h2.3v4.1h-2.3zM139.3 118h2.4v4.2h-2.4zM148.8 200.3h2.4v4.1h-2.4zM153.6 208.6h2.4v4.1h-2.4zM108.3 237.4h2.4v4.1h-2.4zM108.3 245.6h2.4v4.1h-2.4zM110.7 278.5h2.4v4.1h-2.4zM156 307.3h2.4v4.1h-2.4zM156 311.4h2.4v4.2h-2.4zM98.7 344.4h2.4v4.1h-2.4zM156 344.4h2.4v4.1h-2.4zM110.7 348.5h2.4v4.1h-2.4zM127.4 348.5h2.4v4.1h-2.4zM156 397.9h2.4v4.1h-2.4z"/><path fill="#b7f735" d="M122.6 85.1h2.4v4.1h-2.4zM94 101.6h2.4v4.1h-2.4z"/><path fill="#20eaac" d="M148.8 85.1h2.4v4.1h-2.4zM94 93.3h2.4v4.2h-2.4zM188.3 93.3h3v4.2h-3zM215.3 93.3h3v4.2h-3zM188.3 97.5h3v4.1h-3zM215.3 97.5h3v4.1h-3zM188.3 101.6h3v4.1h-3zM215.3 101.6h3v4.1h-3zM188.3 105.7h3v4.1h-3zM215.3 105.7h3v4.1h-3zM188.3 109.8h3v4.1h-3zM215.3 109.8h3v4.1h-3zM188.3 113.9h3v4.1h-3zM215.3 113.9h3v4.1h-3zM156 126.3h2.4v4.1h-2.4zM122.6 134.5h2.4v4.1h-2.4zM170.3 134.5h2.4v4.1h-2.4zM170.3 159.2h2.4v4.1h-2.4zM163.2 167.4h2.3v4.1h-2.3zM91.6 212.7h2.4v4.1h-2.4zM115.4 220.9h2.4v4.1h-2.4zM115.4 225h2.4v4.1h-2.4zM108.3 270.3h2.4v4.1h-2.4zM108.3 282.6h2.4v4.2h-2.4zM101.1 327.9h2.4v4.1h-2.4zM101.1 360.8h2.4v4.1h-2.4zM160.8 360.8h2.4v4.1h-2.4zM101.1 369.1h2.4v4.1h-2.4zM129.8 381.4h2.3v4.1h-2.3zM101.1 385.5h2.4v4.1h-2.4zM101.1 406.1h2.4v4.1h-2.4z"/><path fill="#32f298" d="M156 85.1h2.4v4.1h-2.4zM172.7 85.1h4.8v4.1h-4.8zM151.2 93.3h2.4v4.2h-2.4zM177.5 105.7h2.4v4.1h-2.4zM122.6 113.9h2.4v4.1h-2.4zM101.1 118h2.4v4.2h-2.4zM151.2 122.2h2.4v4.1h-2.4zM163.2 126.3h2.3v4.1h-2.3zM108.3 130.4h2.4v4.1h-2.4zM163.2 130.4h2.3v4.1h-2.3zM122.6 138.6h2.4v4.1h-2.4zM163.2 142.7h2.3v4.1h-2.3zM163.2 146.8h2.3v4.2h-2.3zM122.6 159.2h2.4v4.1h-2.4zM122.6 167.4h2.4v4.1h-2.4zM165.5 175.6h2.4v4.2h-2.4zM165.5 183.9h2.4v4.1h-2.4zM120.2 212.7h2.4v4.1h-2.4zM115.4 241.5h2.4v4.1h-2.4zM115.4 253.8h2.4v4.1h-2.4zM101.1 274.4h2.4v4.1h-2.4zM129.8 348.5h2.3v4.1h-2.3zM151.2 360.8h2.4v4.1h-2.4zM163.2 360.8h2.3v4.1h-2.3zM167.9 360.8h2.4v4.1h-2.4zM197.3 364.9h3v4.2h-3zM101.1 377.3h2.4v4.1h-2.4zM108.3 402h2.4v4.1h-2.4z"/><path fill="#52fa7a" d="M163.2 85.1h2.3v4.1h-2.3zM101.1 97.5h2.4v4.1h-2.4zM158.4 97.5h2.4v4.1h-2.4zM165.5 97.5h2.4v4.1h-2.4zM115.4 105.7h2.4v4.1h-2.4zM94 109.8h2.4v4.1h-2.4zM144.1 109.8h2.4v4.1h-2.4zM165.5 109.8h2.4v4.1h-2.4zM151.2 113.9h2.4v4.1h-2.4zM144.1 118h2.4v4.2h-2.4zM108.3 122.2h2.4v4.1h-2.4zM144.1 122.2h2.4v4.1h-2.4zM158.4 122.2h2.4v4.1h-2.4zM165.5 122.2h2.4v4.1h-2.4zM172.7 122.2h2.4v4.1h-2.4zM129.8 126.3h2.3v4.1h-2.3zM101.1 134.5h2.4v4.1h-2.4zM144.1 142.7h2.4v4.1h-2.4zM136.9 146.8h2.4v4.2h-2.4zM101.1 151h2.4v4.1h-2.4zM129.8 151h2.3v4.1h-2.3zM101.1 155.1h2.4v4.1h-2.4zM115.4 155.1h2.4v4.1h-2.4zM144.1 155.1h2.4v4.1h-2.4zM136.9 159.2h2.4v4.1h-2.4zM129.8 179.8h2.3v4.1h-2.3zM101.1 183.9h2.4v4.1h-2.4zM108.3 192.1h2.4v4.1h-2.4zM101.1 196.2h2.4v4.1h-2.4zM129.8 200.3h2.3v4.1h-2.3zM122.6 204.4h2.4v4.2h-2.4zM86.8 249.7h2.4v4.1h-2.4zM101.1 253.8h2.4v4.1h-2.4zM129.8 278.5h2.3v4.1h-2.3zM115.4 282.6h2.4v4.2h-2.4zM115.4 286.8h2.4v4.1h-2.4zM115.4 303.2h2.4v4.1h-2.4zM115.4 319.7h2.4v4.1h-2.4zM115.4 336.1h2.4v4.1h-2.4zM94 356.7h2.4v4.1h-2.4zM115.4 356.7h2.4v4.1h-2.4zM94 360.8h2.4v4.1h-2.4zM191.3 364.9h3v4.2h-3zM86.8 402h2.4v4.1h-2.4zM115.4 402h2.4v4.1h-2.4z"/><path fill="#bcf534" d="M177.5 85.1h2.4v4.1h-2.4zM94 159.2h2.4v4.1h-2.4zM156 364.9h4.8v4.2h-4.8z"/><path fill="#22c5e2" d="M179.9 85.1h2.3v4.1h-2.3zM188.3 85.1h3v4.1h-3zM254.4 85.1h3v4.1h-3zM296.5 85.1h3v4.1h-3zM125 89.2h2.4v4.1h-2.4zM134.5 122.2h2.4v4.1h-2.4zM148.8 204.4h2.4v4.2h-2.4zM108.3 220.9h2.4v4.1h-2.4zM156 274.4h2.4v4.1h-2.4zM110.7 286.8h2.4v4.1h-2.4zM89.2 344.4h2.4v4.1h-2.4zM125 344.4h2.4v4.1h-2.4zM156 381.4h2.4v4.1h-2.4z"/><path fill="#448ffe" d="M239.4 85.1h3v4.1h-3zM191.3 89.2h3v4.1h-3zM203.3 89.2h3v4.1h-3zM227.4 109.8h3v4.1h-3zM200.3 113.9h3v4.1h-3zM188.3 118h3v4.2h-3zM89.2 130.4h2.4v4.1h-2.4zM200.3 163.3h3v4.1h-3zM91.6 200.3h2.4v4.1h-2.4zM212.3 204.4h3v4.2h-3zM120.2 220.9h2.4v4.1h-2.4zM215.3 229.1h3v4.2h-3zM218.3 253.8h3v4.1h-3zM185.3 257.9h3v4.2h-3zM84.4 274.4h2.4v4.1h-2.4zM275.5 274.4h3v4.1h-3zM263.5 286.8h3v4.1h-3zM290.5 286.8h3v4.1h-3zM191.3 295h3v4.1h-3zM179.9 307.3h2.3v4.1h-2.3zM89.2 311.4h2.4v4.2h-2.4zM203.3 336.1h3v4.1h-3zM188.3 344.4h3v4.1h-3zM227.4 348.5h3v4.1h-3zM194.3 389.6h3v4.1h-3zM197.3 393.7h3v4.2h-3zM105.9 402h2.4v4.1h-2.4z"/><path fill="#4099ff" d="M248.4 85.1h3v4.1h-3zM120.2 89.2h2.4v4.1h-2.4zM91.6 93.3h2.4v4.2h-2.4zM134.5 97.5h2.4v4.1h-2.4zM105.9 101.6h2.4v4.1h-2.4zM125 101.6h2.4v4.1h-2.4zM134.5 101.6h2.4v4.1h-2.4zM120.2 151h2.4v4.1h-2.4zM200.3 237.4h3v4.1h-3zM89.2 241.5h2.4v4.1h-2.4zM188.3 245.6h3v4.1h-3zM89.2 249.7h2.4v4.1h-2.4zM117.8 249.7h2.4v4.1h-2.4zM136.9 249.7h2.4v4.1h-2.4zM206.3 262.1h3v4.1h-3zM197.3 278.5h3v4.1h-3zM209.3 282.6h3v4.2h-3zM203.3 299.1h3v4.1h-3zM151.2 311.4h2.4v4.2h-2.4zM122.6 319.7h2.4v4.1h-2.4zM185.3 327.9h3v4.1h-3zM151.2 332h2.4v4.1h-2.4zM197.3 332h3v4.1h-3zM212.3 364.9h3v4.2h-3zM179.9 369.1h2.3v4.1h-2.3zM206.3 369.1h3v4.1h-3zM227.4 369.1h3v4.1h-3zM148.8 381.4h2.4v4.1h-2.4zM191.3 397.9h3v4.1h-3zM227.4 402h3v4.1h-3zM185.3 406.1h3v4.1h-3z"/><path fill="#4391fe" d="M257.4 85.1h3v4.1h-3zM209.3 295h3v4.1h-3zM185.3 340.2h3v4.2h-3zM191.3 340.2h3v4.2h-3zM185.3 348.5h3v4.1h-3zM206.3 352.6h3v4.1h-3zM227.4 360.8h3v4.1h-3zM215.3 377.3h3v4.1h-3zM197.3 381.4h3v4.1h-3z"/><path fill="#3aa3fc" d="M260.4 85.1h3.1v4.1h-3.1zM96.4 89.2h2.3v4.1h-2.3zM188.3 89.2h3v4.1h-3zM200.3 89.2h3v4.1h-3zM110.7 93.3h2.4v4.2h-2.4zM175.1 126.3h2.4v4.1h-2.4zM175.1 130.4h2.4v4.1h-2.4zM179.9 171.5h2.3v4.1h-2.3zM179.9 200.3h2.3v4.1h-2.3zM117.8 225h2.4v4.1h-2.4zM117.8 233.3h2.4v4.1h-2.4zM136.9 237.4h2.4v4.1h-2.4zM179.9 278.5h2.3v4.1h-2.3zM179.9 299.1h2.3v4.1h-2.3zM122.6 311.4h2.4v4.2h-2.4zM136.9 369.1h2.4v4.1h-2.4z"/><path fill="#38a5fb" d="M263.5 85.1h3v4.1h-3zM284.5 89.2h3v4.1h-3zM117.8 93.3h2.4v4.2h-2.4zM141.7 97.5h2.4v4.1h-2.4zM136.9 225h2.4v4.1h-2.4zM89.2 233.3h2.4v4.1h-2.4zM89.2 245.6h2.4v4.1h-2.4zM122.6 262.1h2.4v4.1h-2.4zM125 266.2h2.4v4.1h-2.4zM122.6 274.4h2.4v4.1h-2.4zM151.2 315.6h2.4v4.1h-2.4zM122.6 340.2h2.4v4.2h-2.4zM96.4 344.4h2.3v4.1h-2.3zM136.9 364.9h2.4v4.2h-2.4zM89.2 369.1h2.4v4.1h-2.4zM134.5 369.1h2.4v4.1h-2.4zM146.5 377.3h4.7v4.1h-4.7zM89.2 389.6h2.4v4.1h-2.4z"/><path fill="#4680f6" d="M299.5 85.1h3.1v4.1h-3.1zM84.4 93.3h2.4v4.2h-2.4zM242.4 93.3h3v4.2h-3zM275.5 93.3h3v4.2h-3zM275.5 97.5h3v4.1h-3zM275.5 101.6h3v4.1h-3zM84.4 105.7h2.4v4.1h-2.4zM275.5 105.7h3v4.1h-3zM260.4 118h3.1v4.2h-3.1zM84.4 122.2h2.4v4.1h-2.4zM215.3 130.4h6v4.1h-6zM218.3 134.5h3v4.1h-3zM227.4 134.5h3v4.1h-3zM125 142.7h2.4v4.1h-2.4zM218.3 142.7h3v4.1h-3zM227.4 142.7h3v4.1h-3zM96.4 146.8h2.3v4.2h-2.3zM218.3 146.8h3v4.2h-3zM160.8 151h2.4v4.1h-2.4zM200.3 151h3v4.1h-3zM200.3 155.1h3v4.1h-3zM206.3 159.2h3v4.1h-3zM218.3 159.2h3v4.1h-3zM89.2 171.5h2.4v4.1h-2.4zM146.5 171.5h2.3v4.1h-2.3zM156 175.6h2.4v4.2h-2.4zM251.4 179.8h3v4.1h-3zM113.1 183.9h2.3v4.1h-2.3zM209.3 183.9h3v4.1h-3zM177.5 192.1h2.4v4.1h-2.4zM96.4 200.3h2.3v4.1h-2.3zM251.4 200.3h3v4.1h-3zM156 204.4h2.4v4.2h-2.4zM308.6 208.6h3v4.1h-3zM266.5 220.9h3v4.1h-3zM127.4 225h2.4v4.1h-2.4zM167.9 225h2.4v4.1h-2.4zM177.5 225h2.4v4.1h-2.4zM314.6 225h3v4.1h-3zM331.9 229.1h5.6v4.2h-5.6zM120.2 233.3h2.4v4.1h-2.4zM170.3 233.3h2.4v4.1h-2.4zM103.5 237.4h2.4v4.1h-2.4zM158.4 237.4h2.4v4.1h-2.4zM110.7 245.6h2.4v4.1h-2.4zM158.4 245.6h2.4v4.1h-2.4zM172.7 245.6h2.4v4.1h-2.4zM197.3 245.6h3v4.1h-3zM302.6 245.6h3v4.1h-3zM206.3 249.7h3v4.1h-3zM320.6 257.9h5.6v4.2h-5.6zM105.9 262.1h2.4v4.1h-2.4zM163.2 262.1h2.3v4.1h-2.3zM84.4 270.3h2.4v4.1h-2.4zM254.4 270.3h3v4.1h-3zM311.6 270.3h3v4.1h-3zM98.7 274.4h2.4v4.1h-2.4zM146.5 278.5h2.3v4.1h-2.3zM194.3 278.5h3v4.1h-3zM257.4 278.5h3v4.1h-3zM98.7 286.8h2.4v4.1h-2.4zM165.5 290.9h2.4v4.1h-2.4zM302.6 290.9h3v4.1h-3zM89.2 295h2.4v4.1h-2.4zM136.9 295h2.4v4.1h-2.4zM233.4 295h3v4.1h-3zM290.5 295h3v4.1h-3zM165.5 299.1h2.4v4.1h-2.4zM337.5 299.1h5.6v4.1h-5.6zM91.6 303.2h2.4v4.1h-2.4zM266.5 307.3h3v4.1h-3zM117.8 311.4h2.4v4.2h-2.4zM239.4 311.4h3v4.2h-3zM170.3 315.6h2.4v4.1h-2.4zM354.4 315.6h5.6v4.1h-5.6zM96.4 319.7h2.3v4.1h-2.3zM177.5 319.7h2.4v4.1h-2.4zM160.8 323.8h2.4v4.1h-2.4zM175.1 323.8h2.4v4.1h-2.4zM110.7 327.9h2.4v4.1h-2.4zM165.5 327.9h2.4v4.1h-2.4zM182.2 327.9h3.1v4.1h-3.1zM84.4 336.1h2.4v4.1h-2.4zM163.2 336.1h2.3v4.1h-2.3zM230.4 336.1h3v4.1h-3zM272.5 336.1h3v4.1h-3zM308.6 336.1h3v4.1h-3zM113.1 340.2h2.3v4.2h-2.3zM230.4 340.2h3v4.2h-3zM84.4 352.6h2.4v4.1h-2.4zM117.8 352.6h2.4v4.1h-2.4zM160.8 352.6h2.4v4.1h-2.4zM248.4 356.7h3v4.1h-3zM278.5 360.8h3v4.1h-3zM110.7 364.9h2.4v4.2h-2.4zM302.6 364.9h3v4.2h-3zM82 369.1h2.4v4.1h-2.4zM125 369.1h2.4v4.1h-2.4zM84.4 373.2h2.4v4.1h-2.4zM326.2 373.2h5.7v4.1h-5.7zM96.4 377.3h2.3v4.1h-2.3zM117.8 377.3h2.4v4.1h-2.4zM158.4 377.3h2.4v4.1h-2.4zM163.2 377.3h2.3v4.1h-2.3zM160.8 381.4h2.4v4.1h-2.4zM117.8 385.5h2.4v4.1h-2.4zM170.3 385.5h2.4v4.1h-2.4zM209.3 385.5h3v4.1h-3zM91.6 389.6h2.4v4.1h-2.4zM110.7 389.6h2.4v4.1h-2.4zM82 397.9h2.4v4.1h-2.4zM91.6 397.9h2.4v4.1h-2.4zM113.1 397.9h2.3v4.1h-2.3zM122.6 397.9h2.4v4.1h-2.4zM158.4 397.9h2.4v4.1h-2.4zM165.5 397.9h2.4v4.1h-2.4zM172.7 397.9h2.4v4.1h-2.4zM179.9 397.9h5.4v4.1h-5.4zM266.5 397.9h3v4.1h-3zM84.4 402h2.4v4.1h-2.4zM96.4 402h2.3v4.1h-2.3zM117.8 402h2.4v4.1h-2.4zM160.8 402h2.4v4.1h-2.4zM215.3 402h3v4.1h-3zM117.8 406.1h2.4v4.1h-2.4zM125 406.1h2.4v4.1h-2.4zM236.4 406.1h3v4.1h-3zM410.7 406.1h5.6v4.1h-5.6z"/><path fill="#4773eb" d="M320.6 85.1h11.3v4.1h-11.3zM84.4 101.6h2.4v4.1h-2.4zM84.4 118h2.4v4.2h-2.4zM305.6 146.8h3v4.2h-3zM305.6 155.1h3v4.1h-3zM113.1 159.2h2.3v4.1h-2.3zM305.6 167.4h3v4.1h-3zM188.3 171.5h3v4.1h-3zM206.3 171.5h3v4.1h-3zM308.6 171.5h3v4.1h-3zM308.6 179.8h3v4.1h-3zM113.1 196.2h2.3v4.1h-2.3zM206.3 233.3h3v4.1h-3zM348.8 233.3h5.6v4.1h-5.6zM203.3 237.4h3v4.1h-3zM197.3 241.5h3v4.1h-3zM245.4 241.5h3v4.1h-3zM230.4 245.6h3v4.1h-3zM110.7 249.7h2.4v4.1h-2.4zM305.6 249.7h3v4.1h-3zM188.3 253.8h3v4.1h-3zM263.5 253.8h3v4.1h-3zM290.5 253.8h3v4.1h-3zM281.5 257.9h3v4.2h-3zM84.4 262.1h2.4v4.1h-2.4zM177.5 270.3h2.4v4.1h-2.4zM185.3 270.3h3v4.1h-3zM233.4 270.3h3v4.1h-3zM215.3 274.4h3v4.1h-3zM269.5 278.5h3v4.1h-3zM191.3 282.6h3v4.2h-3zM242.4 282.6h3v4.2h-3zM302.6 295h3v4.1h-3zM89.2 299.1h2.4v4.1h-2.4zM136.9 303.2h2.4v4.1h-2.4zM165.5 303.2h2.4v4.1h-2.4zM185.3 303.2h3v4.1h-3zM167.9 307.3h2.4v4.1h-2.4zM269.5 307.3h3v4.1h-3zM96.4 311.4h2.3v4.2h-2.3zM158.4 311.4h2.4v4.2h-2.4zM188.3 311.4h3v4.2h-3zM275.5 311.4h3v4.2h-3zM215.3 315.6h3v4.1h-3zM278.5 319.7h3v4.1h-3zM337.5 319.7h5.6v4.1h-5.6zM117.8 323.8h2.4v4.1h-2.4zM242.4 323.8h3v4.1h-3zM314.6 323.8h3v4.1h-3zM110.7 332h2.4v4.1h-2.4zM203.3 332h3v4.1h-3zM179.9 336.1h2.3v4.1h-2.3zM179.9 340.2h2.3v4.2h-2.3zM326.2 340.2h11.3v4.2h-11.3zM182.2 344.4h3.1v4.1h-3.1zM230.4 344.4h3v4.1h-3zM263.5 348.5h3v4.1h-3zM296.5 348.5h3v4.1h-3zM348.8 348.5h5.6v4.1h-5.6zM163.2 352.6h2.3v4.1h-2.3zM182.2 352.6h3.1v4.1h-3.1zM311.6 352.6h3v4.1h-3zM206.3 356.7h3v4.1h-3zM269.5 356.7h3v4.1h-3zM308.6 360.8h3v4.1h-3zM320.6 360.8h5.6v4.1h-5.6zM218.3 364.9h3v4.2h-3zM233.4 377.3h3v4.1h-3zM275.5 385.5h3v4.1h-3zM320.6 389.6h11.3v4.1h-11.3zM245.4 393.7h3v4.2h-3zM218.3 402h3v4.1h-3zM163.2 406.1h2.3v4.1h-2.3zM348.8 406.1h5.6v4.1h-5.6zM393.8 406.1h11.3v4.1h-11.3z"/><path fill="#476ee6" d="M343.1 85.1h11.3v4.1h-11.3zM393.8 85.1h11.3v4.1h-11.3zM305.6 105.7h3v4.1h-3zM305.6 113.9h3v4.1h-3zM305.6 118h3v4.2h-3zM305.6 134.5h3v4.1h-3zM308.6 146.8h3v4.2h-3zM84.4 167.4h2.4v4.1h-2.4zM209.3 188h3v4.1h-3zM311.6 192.1h3v4.1h-3zM194.3 225h3v4.1h-3zM296.5 229.1h3v4.2h-3zM188.3 233.3h3v4.1h-3zM209.3 245.6h3v4.1h-3zM266.5 245.6h3v4.1h-3zM337.5 245.6h5.6v4.1h-5.6zM299.5 266.2h3.1v4.1h-3.1zM218.3 274.4h3v4.1h-3zM233.4 274.4h3v4.1h-3zM293.5 274.4h3v4.1h-3zM236.4 278.5h3v4.1h-3zM254.4 282.6h3v4.2h-3zM278.5 290.9h3v4.1h-3zM257.4 295h3v4.1h-3zM191.3 299.1h3v4.1h-3zM278.5 299.1h3v4.1h-3zM272.5 311.4h3v4.2h-3zM293.5 311.4h3v4.2h-3zM331.9 311.4h5.6v4.2h-5.6zM360 315.6h5.6v4.1h-5.6zM314.6 319.7h3v4.1h-3zM233.4 327.9h3v4.1h-3zM275.5 327.9h3v4.1h-3zM317.6 327.9h3v4.1h-3zM293.5 332h3v4.1h-3zM182.2 336.1h3.1v4.1h-3.1zM302.6 340.2h3v4.2h-3zM326.2 344.4h5.7v4.1h-5.7zM293.5 348.5h3v4.1h-3zM200.3 352.6h3v4.1h-3zM239.4 352.6h3v4.1h-3zM215.3 360.8h3v4.1h-3zM188.3 369.1h6v4.1h-6zM308.6 381.4h3v4.1h-3zM320.6 381.4h5.6v4.1h-5.6zM218.3 385.5h3v4.1h-3zM230.4 389.6h3v4.1h-3zM281.5 389.6h6v4.1h-6zM326.2 397.9h5.7v4.1h-5.7zM194.3 406.1h3v4.1h-3z"/><path fill="#88ff4e" d="M79.7 89.2h2.3v4.1h-2.3zM79.7 130.4h2.3v4.1h-2.3zM94 142.7h2.4v4.1h-2.4zM158.4 142.7h2.4v4.1h-2.4zM79.7 163.3h2.3v4.1h-2.3zM94 167.4h2.4v4.1h-2.4zM79.7 175.6h2.3v4.2h-2.3zM86.8 183.9h2.4v4.1h-2.4zM79.7 200.3h2.3v4.1h-2.3zM79.7 204.4h2.3v4.2h-2.3zM86.8 208.6h2.4v4.1h-2.4zM94 208.6h2.4v4.1h-2.4zM79.7 237.4h2.3v4.1h-2.3zM94 257.9h2.4v4.2h-2.4zM79.7 262.1h2.3v4.1h-2.3zM86.8 262.1h2.4v4.1h-2.4zM79.7 307.3h2.3v4.1h-2.3zM94 319.7h2.4v4.1h-2.4zM86.8 332h2.4v4.1h-2.4zM94 332h2.4v4.1h-2.4zM101.1 344.4h2.4v4.1h-2.4zM86.8 348.5h2.4v4.1h-2.4zM79.7 393.7h2.3v4.2h-2.3zM79.7 402h2.3v4.1h-2.3z"/><path fill="#458afc" d="M248.4 89.2h3v4.1h-3zM127.4 146.8h2.4v4.2h-2.4zM160.8 146.8h2.4v4.2h-2.4zM110.7 163.3h2.4v4.1h-2.4zM91.6 171.5h2.4v4.1h-2.4zM103.5 171.5h2.4v4.1h-2.4zM110.7 171.5h2.4v4.1h-2.4zM89.2 175.6h2.4v4.2h-2.4zM110.7 175.6h2.4v4.2h-2.4zM224.4 175.6h3v4.2h-3zM103.5 179.8h2.4v4.1h-2.4zM110.7 179.8h2.4v4.1h-2.4zM82 183.9h2.4v4.1h-2.4zM125 183.9h2.4v4.1h-2.4zM197.3 183.9h3v4.1h-3zM89.2 188h2.4v4.1h-2.4zM89.2 196.2h2.4v4.1h-2.4zM110.7 200.3h2.4v4.1h-2.4zM163.2 200.3h2.3v4.1h-2.3zM89.2 204.4h2.4v4.2h-2.4zM103.5 204.4h2.4v4.2h-2.4zM117.8 204.4h2.4v4.2h-2.4zM230.4 212.7h3v4.1h-3zM165.5 220.9h2.4v4.1h-2.4zM103.5 225h2.4v4.1h-2.4zM146.5 229.1h2.3v4.2h-2.3zM158.4 229.1h2.4v4.2h-2.4zM110.7 237.4h2.4v4.1h-2.4zM179.9 245.6h2.3v4.1h-2.3zM148.8 249.7h2.4v4.1h-2.4zM175.1 249.7h2.4v4.1h-2.4zM103.5 253.8h2.4v4.1h-2.4zM175.1 253.8h4.8v4.1h-4.8zM251.4 253.8h3v4.1h-3zM299.5 253.8h3.1v4.1h-3.1zM103.5 257.9h2.4v4.2h-2.4zM110.7 257.9h2.4v4.2h-2.4zM177.5 257.9h2.4v4.2h-2.4zM103.5 262.1h2.4v4.1h-2.4zM158.4 262.1h2.4v4.1h-2.4zM191.3 266.2h6v4.1h-6zM167.9 270.3h7.2v4.1h-7.2zM218.3 270.3h3v4.1h-3zM163.2 274.4h2.3v4.1h-2.3zM96.4 278.5h2.3v4.1h-2.3zM134.5 278.5h2.4v4.1h-2.4zM167.9 278.5h2.4v4.1h-2.4zM105.9 282.6h2.4v4.2h-2.4zM134.5 282.6h4.8v4.2h-4.8zM134.5 286.8h2.4v4.1h-2.4zM165.5 286.8h2.4v4.1h-2.4zM269.5 286.8h3v4.1h-3zM299.5 286.8h3.1v4.1h-3.1zM158.4 290.9h2.4v4.1h-2.4zM172.7 290.9h2.4v4.1h-2.4zM177.5 290.9h2.4v4.1h-2.4zM281.5 290.9h3v4.1h-3zM167.9 295h2.4v4.1h-2.4zM194.3 295h3v4.1h-3zM117.8 299.1h2.4v4.1h-2.4zM197.3 299.1h6v4.1h-6zM132.1 303.2h2.4v4.1h-2.4zM158.4 303.2h2.4v4.1h-2.4zM172.7 303.2h4.8v4.1h-4.8zM191.3 303.2h3v4.1h-3zM254.4 303.2h3v4.1h-3zM82 307.3h4.8v4.1h-4.8zM117.8 307.3h2.4v4.1h-2.4zM146.5 307.3h2.3v4.1h-2.3zM293.5 307.3h3v4.1h-3zM314.6 311.4h3v4.2h-3zM91.6 315.6h2.4v4.1h-2.4zM136.9 315.6h2.4v4.1h-2.4zM103.5 327.9h2.4v4.1h-2.4zM284.5 327.9h3v4.1h-3zM82 332h2.4v4.1h-2.4zM117.8 332h2.4v4.1h-2.4zM175.1 332h2.4v4.1h-2.4zM212.3 332h3v4.1h-3zM158.4 336.1h2.4v4.1h-2.4zM167.9 336.1h2.4v4.1h-2.4zM212.3 340.2h3v4.2h-3zM287.5 340.2h3v4.2h-3zM144.1 348.5h2.4v4.1h-2.4zM165.5 348.5h2.4v4.1h-2.4zM148.8 352.6h2.4v4.1h-2.4zM272.5 352.6h3v4.1h-3zM284.5 352.6h3v4.1h-3zM245.4 360.8h3v4.1h-3zM82 364.9h2.4v4.2h-2.4zM98.7 364.9h2.4v4.2h-2.4zM96.4 369.1h2.3v4.1h-2.3zM117.8 369.1h2.4v4.1h-2.4zM158.4 369.1h2.4v4.1h-2.4zM175.1 369.1h4.8v4.1h-4.8zM185.3 369.1h3v4.1h-3zM239.4 369.1h3v4.1h-3zM167.9 377.3h2.4v4.1h-2.4zM191.3 381.4h3v4.1h-3zM98.7 385.5h2.4v4.1h-2.4zM84.4 389.6h2.4v4.1h-2.4zM290.5 389.6h3v4.1h-3zM91.6 393.7h2.4v4.2h-2.4zM163.2 393.7h2.3v4.2h-2.3zM141.7 397.9h2.4v4.1h-2.4zM170.3 397.9h2.4v4.1h-2.4zM281.5 397.9h3v4.1h-3zM110.7 402h2.4v4.1h-2.4zM98.7 406.1h2.4v4.1h-2.4zM110.7 406.1h2.4v4.1h-2.4zM230.4 406.1h3v4.1h-3zM296.5 406.1h3v4.1h-3z"/><path fill="#477bf2" d="M254.4 89.2h6v4.1h-6zM89.2 97.5h2.4v4.1h-2.4zM167.9 101.6h2.4v4.1h-2.4zM167.9 105.7h2.4v4.1h-2.4zM275.5 113.9h3v4.1h-3zM96.4 122.2h2.3v4.1h-2.3zM305.6 142.7h6v4.1h-6zM82 146.8h2.4v4.2h-2.4zM175.1 151h2.4v4.1h-2.4zM254.4 163.3h3v4.1h-3zM263.5 163.3h3v4.1h-3zM305.6 171.5h3v4.1h-3zM82 175.6h2.4v4.2h-2.4zM103.5 175.6h2.4v4.2h-2.4zM160.8 175.6h2.4v4.2h-2.4zM299.5 175.6h3.1v4.2h-3.1zM305.6 175.6h3v4.2h-3zM113.1 179.8h2.3v4.1h-2.3zM139.3 179.8h2.4v4.1h-2.4zM302.6 179.8h3v4.1h-3zM305.6 183.9h3v4.1h-3zM305.6 192.1h3v4.1h-3zM110.7 196.2h2.4v4.1h-2.4zM156 196.2h2.4v4.1h-2.4zM89.2 200.3h2.4v4.1h-2.4zM242.4 200.3h3v4.1h-3zM242.4 204.4h3v4.2h-3zM179.9 208.6h2.3v4.1h-2.3zM242.4 208.6h3v4.1h-3zM269.5 208.6h3v4.1h-3zM278.5 208.6h3v4.1h-3zM96.4 220.9h2.3v4.1h-2.3zM272.5 220.9h3v4.1h-3zM91.6 225h2.4v4.1h-2.4zM96.4 225h2.3v4.1h-2.3zM278.5 225h3v4.1h-3zM170.3 229.1h2.4v4.2h-2.4zM110.7 233.3h2.4v4.1h-2.4zM96.4 237.4h2.3v4.1h-2.3zM305.6 237.4h3v4.1h-3zM146.5 241.5h2.3v4.1h-2.3zM170.3 241.5h2.4v4.1h-2.4zM242.4 241.5h3v4.1h-3zM167.9 245.6h2.4v4.1h-2.4zM188.3 249.7h3v4.1h-3zM239.4 249.7h3v4.1h-3zM167.9 253.8h2.4v4.1h-2.4zM260.4 253.8h3.1v4.1h-3.1zM96.4 257.9h2.3v4.2h-2.3zM158.4 257.9h2.4v4.2h-2.4zM260.4 257.9h3.1v4.2h-3.1zM248.4 262.1h3v4.1h-3zM158.4 266.2h2.4v4.1h-2.4zM284.5 266.2h3v4.1h-3zM158.4 274.4h2.4v4.1h-2.4zM242.4 274.4h3v4.1h-3zM160.8 278.5h2.4v4.1h-2.4zM177.5 278.5h2.4v4.1h-2.4zM239.4 278.5h3v4.1h-3zM343.1 278.5h5.7v4.1h-5.7zM89.2 282.6h2.4v4.2h-2.4zM236.4 282.6h3v4.2h-3zM308.6 282.6h3v4.2h-3zM136.9 286.8h2.4v4.1h-2.4zM158.4 286.8h2.4v4.1h-2.4zM172.7 286.8h2.4v4.1h-2.4zM254.4 286.8h3v4.1h-3zM103.5 290.9h2.4v4.1h-2.4zM299.5 290.9h3.1v4.1h-3.1zM84.4 295h2.4v4.1h-2.4zM163.2 295h2.3v4.1h-2.3zM215.3 299.1h6v4.1h-6zM242.4 299.1h3v4.1h-3zM82 303.2h2.4v4.1h-2.4zM103.5 303.2h2.4v4.1h-2.4zM242.4 303.2h3v4.1h-3zM320.6 303.2h5.6v4.1h-5.6zM89.2 307.3h2.4v4.1h-2.4zM98.7 307.3h2.4v4.1h-2.4zM182.2 307.3h3.1v4.1h-3.1zM170.3 311.4h2.4v4.2h-2.4zM212.3 311.4h3v4.2h-3zM230.4 311.4h3v4.2h-3zM82 315.6h2.4v4.1h-2.4zM163.2 315.6h2.3v4.1h-2.3zM175.1 315.6h2.4v4.1h-2.4zM182.2 315.6h3.1v4.1h-3.1zM317.6 315.6h3v4.1h-3zM117.8 319.7h2.4v4.1h-2.4zM163.2 319.7h2.3v4.1h-2.3zM167.9 319.7h2.4v4.1h-2.4zM82 323.8h2.4v4.1h-2.4zM163.2 323.8h2.3v4.1h-2.3zM170.3 323.8h2.4v4.1h-2.4zM177.5 323.8h2.4v4.1h-2.4zM230.4 323.8h3v4.1h-3zM91.6 332h2.4v4.1h-2.4zM160.8 332h4.7v4.1h-4.7zM188.3 332h3v4.1h-3zM299.5 332h3.1v4.1h-3.1zM206.3 336.1h3v4.1h-3zM84.4 340.2h2.4v4.2h-2.4zM96.4 340.2h2.3v4.2h-2.3zM172.7 340.2h2.4v4.2h-2.4zM197.3 340.2h3v4.2h-3zM311.6 344.4h3v4.1h-3zM82 352.6h2.4v4.1h-2.4zM91.6 352.6h2.4v4.1h-2.4zM96.4 352.6h2.3v4.1h-2.3zM320.6 352.6h5.6v4.1h-5.6zM103.5 364.9h2.4v4.2h-2.4zM165.5 369.1h2.4v4.1h-2.4zM170.3 369.1h2.4v4.1h-2.4zM160.8 373.2h2.4v4.1h-2.4zM103.5 377.3h2.4v4.1h-2.4zM110.7 377.3h4.7v4.1h-4.7zM281.5 381.4h3v4.1h-3zM84.4 385.5h2.4v4.1h-2.4zM96.4 385.5h2.3v4.1h-2.3zM113.1 385.5h2.3v4.1h-2.3zM165.5 385.5h2.4v4.1h-2.4zM233.4 385.5h3v4.1h-3zM257.4 385.5h3v4.1h-3zM331.9 385.5h5.6v4.1h-5.6zM96.4 389.6h4.7v4.1h-4.7zM117.8 389.6h2.4v4.1h-2.4zM122.6 389.6h2.4v4.1h-2.4zM175.1 389.6h2.4v4.1h-2.4zM197.3 389.6h3v4.1h-3zM227.4 389.6h3v4.1h-3zM248.4 389.6h3v4.1h-3zM348.8 389.6h5.6v4.1h-5.6zM84.4 393.7h2.4v4.2h-2.4zM160.8 393.7h2.4v4.2h-2.4zM175.1 393.7h4.8v4.2h-4.8zM110.7 397.9h2.4v4.1h-2.4zM91.6 402h2.4v4.1h-2.4zM103.5 402h2.4v4.1h-2.4zM125 402h2.4v4.1h-2.4zM141.7 402h2.4v4.1h-2.4zM165.5 402h2.4v4.1h-2.4zM179.9 402h2.3v4.1h-2.3zM326.2 402h5.7v4.1h-5.7zM105.9 406.1h2.4v4.1h-2.4zM167.9 406.1h2.4v4.1h-2.4zM177.5 406.1h2.4v4.1h-2.4zM200.3 406.1h3v4.1h-3zM302.6 406.1h3v4.1h-3z"/><path fill="#4687fb" d="M281.5 89.2h3v4.1h-3zM206.3 93.3h3v4.2h-3zM302.6 97.5h3v4.1h-3zM260.4 105.7h3.1v4.1h-3.1zM260.4 109.8h3.1v4.1h-3.1zM103.5 113.9h2.4v4.1h-2.4zM206.3 113.9h3v4.1h-3zM239.4 118h3v4.2h-3zM239.4 122.2h3v4.1h-3zM188.3 126.3h3v4.1h-3zM182.2 130.4h3.1v4.1h-3.1zM209.3 134.5h3v4.1h-3zM146.5 138.6h2.3v4.1h-2.3zM182.2 138.6h3.1v4.1h-3.1zM188.3 138.6h3v4.1h-3zM191.3 146.8h3v4.2h-3zM89.2 151h2.4v4.1h-2.4zM194.3 151h3v4.1h-3zM239.4 151h3v4.1h-3zM227.4 155.1h3v4.1h-3zM239.4 155.1h3v4.1h-3zM245.4 155.1h3v4.1h-3zM89.2 159.2h2.4v4.1h-2.4zM188.3 159.2h3v4.1h-3zM233.4 159.2h9v4.1h-9zM239.4 163.3h3v4.1h-3zM233.4 167.4h6v4.1h-6zM239.4 175.6h3v4.2h-3zM96.4 179.8h2.3v4.1h-2.3zM110.7 183.9h2.4v4.1h-2.4zM179.9 192.1h2.3v4.1h-2.3zM84.4 196.2h2.4v4.1h-2.4zM139.3 196.2h2.4v4.1h-2.4zM245.4 196.2h3v4.1h-3zM194.3 200.3h3v4.1h-3zM82 204.4h2.4v4.2h-2.4zM314.6 204.4h3v4.2h-3zM227.4 212.7h3v4.1h-3zM245.4 212.7h3v4.1h-3zM82 216.8h2.4v4.1h-2.4zM215.3 216.8h3v4.1h-3zM245.4 216.8h3v4.1h-3zM296.5 220.9h3v4.1h-3zM311.6 220.9h3v4.1h-3zM165.5 225h2.4v4.1h-2.4zM172.7 225h2.4v4.1h-2.4zM96.4 229.1h2.3v4.2h-2.3zM148.8 229.1h2.4v4.2h-2.4zM245.4 229.1h6v4.2h-6zM305.6 229.1h3v4.2h-3zM230.4 233.3h3v4.1h-3zM269.5 233.3h3v4.1h-3zM84.4 237.4h2.4v4.1h-2.4zM172.7 237.4h2.4v4.1h-2.4zM254.4 237.4h3v4.1h-3zM266.5 237.4h3v4.1h-3zM84.4 241.5h2.4v4.1h-2.4zM191.3 241.5h3v4.1h-3zM227.4 241.5h3v4.1h-3zM233.4 241.5h3v4.1h-3zM91.6 249.7h2.4v4.1h-2.4zM272.5 249.7h3v4.1h-3zM84.4 253.8h2.4v4.1h-2.4zM179.9 257.9h2.3v4.2h-2.3zM165.5 262.1h2.4v4.1h-2.4zM177.5 262.1h2.4v4.1h-2.4zM84.4 266.2h2.4v4.1h-2.4zM105.9 266.2h2.4v4.1h-2.4zM117.8 266.2h2.4v4.1h-2.4zM132.1 266.2h2.4v4.1h-2.4zM188.3 266.2h3v4.1h-3zM96.4 270.3h2.3v4.1h-2.3zM266.5 270.3h3v4.1h-3zM120.2 274.4h2.4v4.1h-2.4zM141.7 278.5h2.4v4.1h-2.4zM158.4 278.5h2.4v4.1h-2.4zM263.5 278.5h3v4.1h-3zM103.5 282.6h2.4v4.2h-2.4zM117.8 282.6h2.4v4.2h-2.4zM141.7 282.6h2.4v4.2h-2.4zM245.4 286.8h3v4.1h-3zM98.7 290.9h2.4v4.1h-2.4zM91.6 295h2.4v4.1h-2.4zM175.1 295h2.4v4.1h-2.4zM84.4 303.2h2.4v4.1h-2.4zM151.2 303.2h2.4v4.1h-2.4zM260.4 303.2h3.1v4.1h-3.1zM103.5 307.3h2.4v4.1h-2.4zM110.7 307.3h2.4v4.1h-2.4zM136.9 307.3h2.4v4.1h-2.4zM203.3 307.3h3v4.1h-3zM245.4 307.3h3v4.1h-3zM163.2 311.4h2.3v4.2h-2.3zM84.4 315.6h2.4v4.1h-2.4zM239.4 315.6h3v4.1h-3zM136.9 319.7h2.4v4.1h-2.4zM191.3 319.7h3v4.1h-3zM197.3 319.7h3v4.1h-3zM188.3 327.9h3v4.1h-3zM287.5 336.1h3v4.1h-3zM117.8 340.2h2.4v4.2h-2.4zM132.1 340.2h2.4v4.2h-2.4zM160.8 340.2h2.4v4.2h-2.4zM177.5 340.2h2.4v4.2h-2.4zM248.4 340.2h3v4.2h-3zM158.4 344.4h2.4v4.1h-2.4zM305.6 344.4h3v4.1h-3zM148.8 348.5h2.4v4.1h-2.4zM163.2 348.5h2.3v4.1h-2.3zM172.7 356.7h2.4v4.1h-2.4zM177.5 356.7h2.4v4.1h-2.4zM230.4 356.7h3v4.1h-3zM103.5 360.8h2.4v4.1h-2.4zM290.5 364.9h3v4.2h-3zM305.6 364.9h3v4.2h-3zM98.7 369.1h2.4v4.1h-2.4zM236.4 369.1h3v4.1h-3zM251.4 369.1h3v4.1h-3zM96.4 373.2h2.3v4.1h-2.3zM103.5 373.2h2.4v4.1h-2.4zM165.5 373.2h2.4v4.1h-2.4zM230.4 373.2h3v4.1h-3zM110.7 381.4h2.4v4.1h-2.4zM117.8 381.4h2.4v4.1h-2.4zM272.5 381.4h3v4.1h-3zM122.6 385.5h2.4v4.1h-2.4zM136.9 389.6h2.4v4.1h-2.4zM158.4 389.6h2.4v4.1h-2.4zM230.4 393.7h3v4.2h-3zM269.5 393.7h3v4.2h-3zM296.5 393.7h3v4.2h-3zM103.5 397.9h2.4v4.1h-2.4zM275.5 397.9h3v4.1h-3zM299.5 397.9h3.1v4.1h-3.1zM230.4 402h3v4.1h-3zM215.3 406.1h3v4.1h-3z"/><path fill="#8fff49" d="M79.7 93.3h2.3v4.2h-2.3zM86.8 101.6h2.4v4.1h-2.4zM115.4 122.2h2.4v4.1h-2.4zM79.7 126.3h2.3v4.1h-2.3zM151.2 130.4h2.4v4.1h-2.4zM151.2 146.8h2.4v4.2h-2.4zM86.8 159.2h2.4v4.1h-2.4zM158.4 167.4h2.4v4.1h-2.4zM144.1 171.5h2.4v4.1h-2.4zM144.1 179.8h2.4v4.1h-2.4zM144.1 200.3h2.4v4.1h-2.4zM136.9 208.6h2.4v4.1h-2.4zM94 212.7h2.4v4.1h-2.4zM122.6 212.7h2.4v4.1h-2.4zM94 229.1h2.4v4.2h-2.4zM79.7 270.3h2.3v4.1h-2.3zM86.8 282.6h2.4v4.2h-2.4zM94 282.6h2.4v4.2h-2.4zM94 286.8h2.4v4.1h-2.4zM79.7 290.9h2.3v4.1h-2.3zM94 303.2h2.4v4.1h-2.4z"/><path fill="#9ffd3f" d="M86.8 93.3h2.4v4.2h-2.4zM86.8 109.8h2.4v4.1h-2.4zM94 134.5h2.4v4.1h-2.4zM86.8 138.6h2.4v4.1h-2.4zM94 138.6h2.4v4.1h-2.4zM86.8 142.7h2.4v4.1h-2.4zM151.2 155.1h2.4v4.1h-2.4zM158.4 155.1h2.4v4.1h-2.4zM86.8 175.6h2.4v4.2h-2.4zM79.7 188h2.3v4.1h-2.3zM79.7 192.1h2.3v4.1h-2.3zM129.8 208.6h2.3v4.1h-2.3zM94 237.4h2.4v4.1h-2.4zM79.7 249.7h2.3v4.1h-2.3zM86.8 270.3h2.4v4.1h-2.4zM94 270.3h2.4v4.1h-2.4zM79.7 278.5h2.3v4.1h-2.3zM86.8 278.5h2.4v4.1h-2.4zM79.7 286.8h2.3v4.1h-2.3zM79.7 315.6h2.3v4.1h-2.3zM86.8 327.9h2.4v4.1h-2.4zM79.7 332h2.3v4.1h-2.3zM79.7 336.1h2.3v4.1h-2.3zM79.7 377.3h2.3v4.1h-2.3zM79.7 397.9h2.3v4.1h-2.3z"/><path fill="#3d9efe" d="M89.2 93.3h2.4v4.2h-2.4zM84.4 113.9h2.4v4.1h-2.4zM182.2 225h3.1v4.1h-3.1zM191.3 237.4h3v4.1h-3zM136.9 245.6h2.4v4.1h-2.4zM227.4 303.2h3v4.1h-3zM197.3 307.3h3v4.1h-3zM212.3 315.6h3v4.1h-3zM134.5 327.9h4.8v4.1h-4.8zM110.7 344.4h2.4v4.1h-2.4zM212.3 344.4h3v4.1h-3zM89.2 364.9h2.4v4.2h-2.4zM188.3 377.3h3v4.1h-3zM185.3 385.5h3v4.1h-3zM191.3 385.5h3v4.1h-3z"/><path fill="#458cfd" d="M103.5 93.3h2.4v4.2h-2.4zM167.9 109.8h2.4v4.1h-2.4zM139.3 134.5h2.4v4.1h-2.4zM89.2 142.7h2.4v4.1h-2.4zM132.1 155.1h2.4v4.1h-2.4zM82 171.5h2.4v4.1h-2.4zM153.6 175.6h2.4v4.2h-2.4zM158.4 175.6h2.4v4.2h-2.4zM82 196.2h2.4v4.1h-2.4zM197.3 200.3h3v4.1h-3zM311.6 204.4h3v4.2h-3zM91.6 216.8h2.4v4.1h-2.4zM82 220.9h2.4v4.1h-2.4zM103.5 220.9h2.4v4.1h-2.4zM172.7 220.9h2.4v4.1h-2.4zM120.2 225h2.4v4.1h-2.4zM160.8 225h2.4v4.1h-2.4zM165.5 233.3h2.4v4.1h-2.4zM82 237.4h2.4v4.1h-2.4zM96.4 241.5h2.3v4.1h-2.3zM110.7 241.5h2.4v4.1h-2.4zM163.2 245.6h2.3v4.1h-2.3zM293.5 249.7h3v4.1h-3zM82 253.8h2.4v4.1h-2.4zM110.7 253.8h2.4v4.1h-2.4zM132.1 253.8h2.4v4.1h-2.4zM163.2 257.9h2.3v4.2h-2.3zM167.9 257.9h2.4v4.2h-2.4zM89.2 266.2h2.4v4.1h-2.4zM98.7 266.2h2.4v4.1h-2.4zM103.5 266.2h2.4v4.1h-2.4zM103.5 270.3h2.4v4.1h-2.4zM197.3 270.3h3v4.1h-3zM113.1 274.4h2.3v4.1h-2.3zM239.4 274.4h3v4.1h-3zM84.4 278.5h2.4v4.1h-2.4zM242.4 278.5h3v4.1h-3zM91.6 282.6h2.4v4.2h-2.4zM160.8 282.6h2.4v4.2h-2.4zM170.3 282.6h2.4v4.2h-2.4zM266.5 282.6h3v4.2h-3zM82 286.8h2.4v4.1h-2.4zM91.6 286.8h2.4v4.1h-2.4zM167.9 286.8h2.4v4.1h-2.4zM175.1 286.8h2.4v4.1h-2.4zM206.3 286.8h3v4.1h-3zM317.6 286.8h3v4.1h-3zM179.9 290.9h2.3v4.1h-2.3zM170.3 295h2.4v4.1h-2.4zM317.6 295h3v4.1h-3zM305.6 299.1h3v4.1h-3zM167.9 303.2h2.4v4.1h-2.4zM290.5 303.2h3v4.1h-3zM172.7 307.3h4.8v4.1h-4.8zM239.4 307.3h3v4.1h-3zM110.7 311.4h2.4v4.2h-2.4zM172.7 311.4h2.4v4.2h-2.4zM89.2 315.6h2.4v4.1h-2.4zM110.7 315.6h2.4v4.1h-2.4zM160.8 315.6h2.4v4.1h-2.4zM84.4 319.7h2.4v4.1h-2.4zM158.4 319.7h2.4v4.1h-2.4zM236.4 319.7h3v4.1h-3zM98.7 323.8h2.4v4.1h-2.4zM167.9 323.8h2.4v4.1h-2.4zM305.6 323.8h3v4.1h-3zM172.7 327.9h2.4v4.1h-2.4zM165.5 332h2.4v4.1h-2.4zM172.7 332h2.4v4.1h-2.4zM110.7 336.1h2.4v4.1h-2.4zM239.4 336.1h3v4.1h-3zM293.5 336.1h3v4.1h-3zM299.5 336.1h3.1v4.1h-3.1zM148.8 340.2h2.4v4.2h-2.4zM170.3 340.2h2.4v4.2h-2.4zM148.8 344.4h2.4v4.1h-2.4zM215.3 344.4h3v4.1h-3zM227.4 344.4h3v4.1h-3zM245.4 344.4h3v4.1h-3zM98.7 352.6h2.4v4.1h-2.4zM122.6 352.6h2.4v4.1h-2.4zM110.7 356.7h2.4v4.1h-2.4zM158.4 356.7h2.4v4.1h-2.4zM165.5 356.7h2.4v4.1h-2.4zM212.3 360.8h3v4.1h-3zM84.4 364.9h2.4v4.2h-2.4zM117.8 364.9h2.4v4.2h-2.4zM91.6 369.1h2.4v4.1h-2.4zM260.4 369.1h3.1v4.1h-3.1zM269.5 373.2h3v4.1h-3zM278.5 377.3h3v4.1h-3zM113.1 381.4h2.3v4.1h-2.3zM170.3 381.4h2.4v4.1h-2.4zM91.6 385.5h2.4v4.1h-2.4zM103.5 389.6h4.8v4.1h-4.8zM182.2 393.7h3.1v4.2h-3.1zM281.5 393.7h3v4.2h-3zM311.6 393.7h3v4.2h-3zM105.9 397.9h2.4v4.1h-2.4zM305.6 397.9h3v4.1h-3zM167.9 402h2.4v4.1h-2.4zM84.4 406.1h2.4v4.1h-2.4zM103.5 406.1h2.4v4.1h-2.4zM160.8 406.1h2.4v4.1h-2.4z"/><path fill="#d9e436" d="M156 93.3h2.4v4.2h-2.4z"/><path fill="#455ed3" d="M317.6 93.3h3v4.2h-3zM224.4 192.1h3v4.1h-3zM296.5 200.3h3v4.1h-3zM197.3 229.1h3v4.2h-3zM311.6 237.4h3v4.1h-3zM284.5 241.5h3v4.1h-3zM248.4 253.8h3v4.1h-3zM287.5 257.9h3v4.2h-3zM299.5 257.9h3.1v4.2h-3.1zM251.4 270.3h3v4.1h-3zM191.3 274.4h3v4.1h-3zM326.2 282.6h5.7v4.2h-5.7zM197.3 286.8h3v4.1h-3zM343.1 286.8h5.7v4.1h-5.7zM188.3 290.9h3v4.1h-3zM337.5 290.9h5.6v4.1h-5.6zM263.5 295h3v4.1h-3zM320.6 295h5.6v4.1h-5.6zM236.4 307.3h3v4.1h-3zM296.5 311.4h3v4.2h-3zM254.4 319.7h3v4.1h-3zM227.4 323.8h3v4.1h-3zM284.5 323.8h3v4.1h-3zM320.6 323.8h5.6v4.1h-5.6zM314.6 336.1h3v4.1h-3zM215.3 340.2h3v4.2h-3zM299.5 340.2h3.1v4.2h-3.1zM218.3 344.4h3v4.1h-3zM194.3 352.6h3v4.1h-3zM209.3 360.8h3v4.1h-3zM266.5 360.8h3v4.1h-3zM251.4 364.9h3v4.2h-3zM242.4 377.3h3v4.1h-3zM245.4 385.5h3v4.1h-3zM287.5 385.5h3v4.1h-3zM269.5 389.6h3v4.1h-3zM348.8 393.7h5.6v4.2h-5.6zM218.3 397.9h3v4.1h-3z"/><path fill="#a1fd3d" d="M79.7 97.5h2.3v4.1h-2.3zM79.7 101.6h2.3v4.1h-2.3zM86.8 105.7h2.4v4.1h-2.4zM79.7 109.8h2.3v4.1h-2.3zM94 146.8h2.4v4.2h-2.4zM158.4 159.2h2.4v4.1h-2.4zM144.1 183.9h2.4v4.1h-2.4zM86.8 192.1h2.4v4.1h-2.4zM79.7 208.6h2.3v4.1h-2.3zM122.6 208.6h2.4v4.1h-2.4zM144.1 208.6h2.4v4.1h-2.4zM79.7 266.2h2.3v4.1h-2.3zM86.8 299.1h2.4v4.1h-2.4zM94 307.3h2.4v4.1h-2.4zM94 340.2h2.4v4.2h-2.4zM94 344.4h2.4v4.1h-2.4zM156 360.8h2.4v4.1h-2.4zM79.7 389.6h2.3v4.1h-2.3z"/><path fill="#434eba" d="M82 97.5h2.4v4.1h-2.4zM311.6 163.3h3v4.1h-3zM326.2 183.9h5.7v4.1h-5.7zM308.6 188h3v4.1h-3zM317.6 188h3v4.1h-3zM299.5 200.3h3.1v4.1h-3.1zM376.9 229.1h5.6v4.2h-5.6zM348.8 237.4h5.6v4.1h-5.6zM311.6 241.5h3v4.1h-3zM326.2 241.5h5.7v4.1h-5.7zM365.6 241.5h5.7v4.1h-5.7zM354.4 262.1h5.6v4.1h-5.6zM230.4 266.2h3v4.1h-3zM260.4 266.2h3.1v4.1h-3.1zM284.5 270.3h3v4.1h-3zM317.6 274.4h3v4.1h-3zM348.8 278.5h5.6v4.1h-5.6zM260.4 290.9h3.1v4.1h-3.1zM293.5 290.9h3v4.1h-3zM311.6 290.9h3v4.1h-3zM245.4 295h3v4.1h-3zM293.5 295h3v4.1h-3zM272.5 299.1h3v4.1h-3zM278.5 307.3h3v4.1h-3zM365.6 307.3h5.7v4.1h-5.7zM233.4 311.4h3v4.2h-3zM320.6 311.4h5.6v4.2h-5.6zM290.5 327.9h3v4.1h-3zM269.5 340.2h3v4.2h-3zM242.4 344.4h3v4.1h-3zM281.5 344.4h3v4.1h-3zM302.6 348.5h3v4.1h-3zM269.5 352.6h3v4.1h-3zM337.5 352.6h5.6v4.1h-5.6zM272.5 356.7h3v4.1h-3zM251.4 360.8h3v4.1h-3zM254.4 369.1h3v4.1h-3zM308.6 369.1h3v4.1h-3zM331.9 369.1h5.6v4.1h-5.6zM305.6 377.3h3v4.1h-3zM269.5 381.4h3v4.1h-3zM371.3 385.5h5.6v4.1h-5.6zM299.5 389.6h3.1v4.1h-3.1zM263.5 397.9h3v4.1h-3zM290.5 397.9h3v4.1h-3z"/><path fill="#4682f8" d="M84.4 97.5h2.4v4.1h-2.4zM96.4 171.5h2.3v4.1h-2.3zM96.4 175.6h2.3v4.2h-2.3zM89.2 183.9h2.4v4.1h-2.4zM127.4 183.9h2.4v4.1h-2.4zM89.2 192.1h2.4v4.1h-2.4zM139.3 192.1h2.4v4.1h-2.4zM156 192.1h2.4v4.1h-2.4zM206.3 192.1h3v4.1h-3zM308.6 192.1h3v4.1h-3zM84.4 204.4h2.4v4.2h-2.4zM91.6 204.4h2.4v4.2h-2.4zM98.7 204.4h2.4v4.2h-2.4zM103.5 216.8h2.4v4.1h-2.4zM110.7 216.8h2.4v4.1h-2.4zM167.9 216.8h2.4v4.1h-2.4zM148.8 225h2.4v4.1h-2.4zM179.9 225h2.3v4.1h-2.3zM91.6 233.3h2.4v4.1h-2.4zM91.6 237.4h2.4v4.1h-2.4zM218.3 237.4h3v4.1h-3zM91.6 241.5h2.4v4.1h-2.4zM160.8 241.5h2.4v4.1h-2.4zM167.9 241.5h2.4v4.1h-2.4zM206.3 241.5h3v4.1h-3zM275.5 241.5h3v4.1h-3zM82 245.6h4.8v4.1h-4.8zM96.4 245.6h2.3v4.1h-2.3zM260.4 245.6h3.1v4.1h-3.1zM284.5 245.6h3v4.1h-3zM82 249.7h2.4v4.1h-2.4zM170.3 249.7h2.4v4.1h-2.4zM160.8 253.8h2.4v4.1h-2.4zM281.5 253.8h3v4.1h-3zM148.8 262.1h2.4v4.1h-2.4zM170.3 262.1h2.4v4.1h-2.4zM175.1 262.1h2.4v4.1h-2.4zM227.4 262.1h3v4.1h-3zM160.8 270.3h2.4v4.1h-2.4zM96.4 274.4h2.3v4.1h-2.3zM103.5 274.4h2.4v4.1h-2.4zM212.3 278.5h3v4.1h-3zM84.4 282.6h2.4v4.2h-2.4zM200.3 282.6h3v4.2h-3zM245.4 282.6h3v4.2h-3zM84.4 286.8h2.4v4.1h-2.4zM89.2 286.8h2.4v4.1h-2.4zM96.4 286.8h2.3v4.1h-2.3zM117.8 286.8h2.4v4.1h-2.4zM84.4 290.9h2.4v4.1h-2.4zM136.9 290.9h2.4v4.1h-2.4zM236.4 290.9h3v4.1h-3zM96.4 295h2.3v4.1h-2.3zM103.5 295h2.4v4.1h-2.4zM117.8 295h2.4v4.1h-2.4zM151.2 299.1h2.4v4.1h-2.4zM105.9 303.2h2.4v4.1h-2.4zM117.8 303.2h2.4v4.1h-2.4zM194.3 303.2h3v4.1h-3zM251.4 303.2h3v4.1h-3zM91.6 307.3h2.4v4.1h-2.4zM308.6 311.4h3v4.2h-3zM117.8 315.6h2.4v4.1h-2.4zM167.9 315.6h2.4v4.1h-2.4zM203.3 315.6h3v4.1h-3zM82 319.7h2.4v4.1h-2.4zM103.5 323.8h2.4v4.1h-2.4zM89.2 336.1h2.4v4.1h-2.4zM212.3 336.1h3v4.1h-3zM89.2 340.2h4.8v4.2h-4.8zM163.2 344.4h2.3v4.1h-2.3zM175.1 344.4h2.4v4.1h-2.4zM160.8 348.5h2.4v4.1h-2.4zM233.4 348.5h3v4.1h-3zM170.3 352.6h2.4v4.1h-2.4zM248.4 352.6h3v4.1h-3zM96.4 356.7h2.3v4.1h-2.3zM160.8 356.7h2.4v4.1h-2.4zM117.8 360.8h2.4v4.1h-2.4zM242.4 364.9h6v4.2h-6zM272.5 364.9h3v4.2h-3zM182.2 369.1h3.1v4.1h-3.1zM296.5 369.1h3v4.1h-3zM314.6 373.2h3v4.1h-3zM84.4 377.3h2.4v4.1h-2.4zM172.7 377.3h2.4v4.1h-2.4zM257.4 377.3h3v4.1h-3zM96.4 381.4h2.3v4.1h-2.3zM158.4 381.4h2.4v4.1h-2.4zM98.7 393.7h2.4v4.2h-2.4zM103.5 393.7h2.4v4.2h-2.4zM136.9 393.7h2.4v4.2h-2.4zM167.9 393.7h2.4v4.2h-2.4zM191.3 393.7h3v4.2h-3zM239.4 393.7h3v4.2h-3zM84.4 397.9h2.4v4.1h-2.4zM197.3 397.9h3v4.1h-3zM122.6 402h2.4v4.1h-2.4zM177.5 402h2.4v4.1h-2.4zM245.4 402h3v4.1h-3zM317.6 402h3v4.1h-3zM165.5 406.1h2.4v4.1h-2.4zM290.5 406.1h3v4.1h-3z"/><path fill="#9cfe40" d="M86.8 97.5h2.4v4.1h-2.4zM79.7 151h2.3v4.1h-2.3zM86.8 151h2.4v4.1h-2.4zM151.2 151h2.4v4.1h-2.4zM86.8 155.1h2.4v4.1h-2.4zM151.2 167.4h2.4v4.1h-2.4zM79.7 171.5h2.3v4.1h-2.3zM101.1 212.7h2.4v4.1h-2.4zM94 262.1h2.4v4.1h-2.4zM86.8 266.2h2.4v4.1h-2.4zM94 266.2h2.4v4.1h-2.4zM86.8 274.4h2.4v4.1h-2.4zM86.8 290.9h2.4v4.1h-2.4zM94 299.1h2.4v4.1h-2.4zM79.7 303.2h2.3v4.1h-2.3zM86.8 340.2h2.4v4.2h-2.4z"/><path fill="#d7e535" d="M156 97.5h2.4v4.1h-2.4zM156 101.6h2.4v4.1h-2.4z"/><path fill="#4685fa" d="M167.9 97.5h2.4v4.1h-2.4zM163.2 109.8h2.3v4.1h-2.3zM132.1 151h2.4v4.1h-2.4zM167.9 163.3h2.4v4.1h-2.4zM153.6 171.5h2.4v4.1h-2.4zM89.2 179.8h2.4v4.1h-2.4zM82 188h2.4v4.1h-2.4zM156 188h2.4v4.1h-2.4zM185.3 200.3h3v4.1h-3zM177.5 220.9h2.4v4.1h-2.4zM146.5 225h2.3v4.1h-2.3zM230.4 225h3v4.1h-3zM172.7 233.3h2.4v4.1h-2.4zM185.3 237.4h3v4.1h-3zM209.3 237.4h3v4.1h-3zM233.4 237.4h3v4.1h-3zM113.1 241.5h2.3v4.1h-2.3zM148.8 241.5h2.4v4.1h-2.4zM263.5 241.5h3v4.1h-3zM212.3 245.6h3v4.1h-3zM242.4 245.6h3v4.1h-3zM158.4 249.7h2.4v4.1h-2.4zM165.5 253.8h2.4v4.1h-2.4zM269.5 253.8h3v4.1h-3zM82 257.9h2.4v4.2h-2.4zM254.4 257.9h3v4.2h-3zM91.6 262.1h2.4v4.1h-2.4zM221.3 262.1h3.1v4.1h-3.1zM165.5 266.2h2.4v4.1h-2.4zM170.3 266.2h2.4v4.1h-2.4zM308.6 270.3h3v4.1h-3zM188.3 274.4h3v4.1h-3zM266.5 274.4h3v4.1h-3zM206.3 278.5h3v4.1h-3zM172.7 282.6h2.4v4.2h-2.4zM89.2 290.9h2.4v4.1h-2.4zM117.8 290.9h2.4v4.1h-2.4zM182.2 290.9h3.1v4.1h-3.1zM308.6 290.9h3v4.1h-3zM82 295h2.4v4.1h-2.4zM151.2 295h2.4v4.1h-2.4zM203.3 295h3v4.1h-3zM287.5 295h3v4.1h-3zM82 299.1h4.8v4.1h-4.8zM158.4 299.1h4.8v4.1h-4.8zM185.3 299.1h3v4.1h-3zM200.3 303.2h3v4.1h-3zM105.9 307.3h2.4v4.1h-2.4zM177.5 311.4h2.4v4.2h-2.4zM103.5 315.6h2.4v4.1h-2.4zM165.5 319.7h2.4v4.1h-2.4zM172.7 319.7h2.4v4.1h-2.4zM218.3 319.7h3v4.1h-3zM293.5 319.7h3v4.1h-3zM96.4 323.8h2.3v4.1h-2.3zM263.5 323.8h3v4.1h-3zM89.2 327.9h2.4v4.1h-2.4zM170.3 327.9h2.4v4.1h-2.4zM200.3 327.9h3v4.1h-3zM245.4 327.9h3v4.1h-3zM89.2 332h2.4v4.1h-2.4zM248.4 332h3v4.1h-3zM82 336.1h2.4v4.1h-2.4zM103.5 336.1h2.4v4.1h-2.4zM103.5 340.2h2.4v4.2h-2.4zM110.7 340.2h2.4v4.2h-2.4zM165.5 340.2h2.4v4.2h-2.4zM269.5 344.4h3v4.1h-3zM175.1 348.5h2.4v4.1h-2.4zM84.4 356.7h2.4v4.1h-2.4zM103.5 356.7h2.4v4.1h-2.4zM167.9 356.7h2.4v4.1h-2.4zM275.5 356.7h3v4.1h-3zM105.9 360.8h2.4v4.1h-2.4zM96.4 364.9h2.3v4.2h-2.3zM209.3 364.9h3v4.2h-3zM84.4 369.1h2.4v4.1h-2.4zM110.7 373.2h2.4v4.1h-2.4zM117.8 373.2h2.4v4.1h-2.4zM172.7 373.2h2.4v4.1h-2.4zM194.3 373.2h3v4.1h-3zM215.3 373.2h3v4.1h-3zM233.4 373.2h3v4.1h-3zM227.4 377.3h3v4.1h-3zM251.4 377.3h3v4.1h-3zM175.1 381.4h2.4v4.1h-2.4zM209.3 381.4h3v4.1h-3zM177.5 385.5h2.4v4.1h-2.4zM188.3 385.5h3v4.1h-3zM206.3 385.5h3v4.1h-3zM251.4 385.5h3v4.1h-3zM299.5 385.5h3.1v4.1h-3.1zM165.5 389.6h2.4v4.1h-2.4zM172.7 389.6h2.4v4.1h-2.4zM206.3 389.6h3v4.1h-3zM314.6 389.6h3v4.1h-3zM82 393.7h2.4v4.2h-2.4zM105.9 393.7h2.4v4.2h-2.4zM170.3 393.7h2.4v4.2h-2.4zM227.4 393.7h3v4.2h-3zM302.6 393.7h3v4.2h-3zM308.6 393.7h3v4.2h-3zM117.8 397.9h2.4v4.1h-2.4zM125 397.9h2.4v4.1h-2.4zM82 402h2.4v4.1h-2.4zM172.7 402h2.4v4.1h-2.4zM212.3 402h3v4.1h-3zM263.5 402h3v4.1h-3zM172.7 406.1h2.4v4.1h-2.4z"/><path fill="#6dfe62" d="M172.7 97.5h2.4v4.1h-2.4zM108.3 101.6h2.4v4.1h-2.4zM170.3 113.9h2.4v4.1h-2.4zM94 118h2.4v4.2h-2.4zM94 122.2h2.4v4.1h-2.4zM136.9 122.2h2.4v4.1h-2.4zM129.8 146.8h2.3v4.2h-2.3zM165.5 146.8h2.4v4.2h-2.4zM115.4 151h2.4v4.1h-2.4zM108.3 159.2h2.4v4.1h-2.4zM129.8 159.2h2.3v4.1h-2.3zM136.9 167.4h2.4v4.1h-2.4zM136.9 175.6h2.4v4.2h-2.4zM122.6 183.9h2.4v4.1h-2.4zM108.3 188h2.4v4.1h-2.4zM136.9 200.3h2.4v4.1h-2.4zM108.3 204.4h2.4v4.2h-2.4zM101.1 216.8h2.4v4.1h-2.4zM101.1 229.1h2.4v4.2h-2.4zM115.4 266.2h2.4v4.1h-2.4zM129.8 270.3h2.3v4.1h-2.3zM129.8 336.1h2.3v4.1h-2.3zM115.4 340.2h2.4v4.2h-2.4zM86.8 360.8h2.4v4.1h-2.4zM115.4 360.8h2.4v4.1h-2.4zM86.8 364.9h2.4v4.2h-2.4zM115.4 369.1h2.4v4.1h-2.4zM86.8 385.5h2.4v4.1h-2.4zM94 385.5h2.4v4.1h-2.4zM94 397.9h2.4v4.1h-2.4zM94 402h2.4v4.1h-2.4z"/><path fill="#3d358b" d="M331.9 97.5h5.6v4.1h-5.6zM388.2 105.7h5.6v4.1h-5.6zM326.2 257.9h5.7v4.2h-5.7zM343.1 344.4h5.7v4.1h-5.7zM326.2 393.7h5.7v4.2h-5.7zM405.1 393.7h5.6v4.2h-5.6z"/><path fill="#4664da" d="M82 101.6h2.4v4.1h-2.4zM96.4 113.9h2.3v4.1h-2.3zM209.3 216.8h3v4.1h-3zM227.4 220.9h3v4.1h-3zM278.5 237.4h3v4.1h-3zM251.4 241.5h3v4.1h-3zM182.2 245.6h3.1v4.1h-3.1zM206.3 253.8h3v4.1h-3zM239.4 262.1h3v4.1h-3zM251.4 262.1h3v4.1h-3zM275.5 262.1h3v4.1h-3zM296.5 266.2h3v4.1h-3zM293.5 270.3h3v4.1h-3zM257.4 274.4h3v4.1h-3zM272.5 278.5h3v4.1h-3zM278.5 286.8h3v4.1h-3zM239.4 295h3v4.1h-3zM311.6 295h3v4.1h-3zM331.9 295h5.6v4.1h-5.6zM257.4 299.1h6.1v4.1h-6.1zM257.4 303.2h3v4.1h-3zM299.5 303.2h3.1v4.1h-3.1zM194.3 307.3h3v4.1h-3zM212.3 307.3h3v4.1h-3zM209.3 311.4h3v4.2h-3zM248.4 311.4h3v4.2h-3zM185.3 319.7h3v4.1h-3zM215.3 319.7h3v4.1h-3zM197.3 327.9h3v4.1h-3zM296.5 327.9h3v4.1h-3zM348.8 336.1h5.6v4.1h-5.6zM360 336.1h5.6v4.1h-5.6zM311.6 340.2h3v4.2h-3zM296.5 344.4h3v4.1h-3zM314.6 348.5h3v4.1h-3zM296.5 356.7h3v4.1h-3zM302.6 356.7h3v4.1h-3zM302.6 360.8h3v4.1h-3zM254.4 364.9h3v4.2h-3zM326.2 364.9h5.7v4.2h-5.7zM245.4 377.3h3v4.1h-3zM296.5 381.4h3v4.1h-3zM320.6 385.5h5.6v4.1h-5.6zM185.3 397.9h3v4.1h-3zM348.8 397.9h5.6v4.1h-5.6z"/><path fill="#1ad2d2" d="M160.8 101.6h2.4v4.1h-2.4zM134.5 126.3h2.4v4.1h-2.4zM141.7 134.5h2.4v4.1h-2.4zM141.7 163.3h2.4v4.1h-2.4zM148.8 188h2.4v4.1h-2.4zM139.3 208.6h2.4v4.1h-2.4zM129.8 220.9h2.3v4.1h-2.3zM129.8 229.1h2.3v4.2h-2.3zM144.1 249.7h2.4v4.1h-2.4zM144.1 282.6h2.4v4.2h-2.4zM144.1 299.1h2.4v4.1h-2.4zM144.1 303.2h2.4v4.1h-2.4zM203.3 360.8h3v4.1h-3zM160.8 364.9h2.4v4.2h-2.4z"/><path fill="#99fe42" d="M165.5 101.6h2.4v4.1h-2.4zM165.5 105.7h2.4v4.1h-2.4zM86.8 113.9h2.4v4.1h-2.4zM94 130.4h2.4v4.1h-2.4zM86.8 134.5h2.4v4.1h-2.4zM158.4 138.6h2.4v4.1h-2.4zM86.8 146.8h2.4v4.2h-2.4zM79.7 155.1h2.3v4.1h-2.3zM86.8 167.4h2.4v4.1h-2.4zM144.1 188h2.4v4.1h-2.4zM136.9 212.7h2.4v4.1h-2.4zM79.7 220.9h2.3v4.1h-2.3zM94 220.9h2.4v4.1h-2.4zM94 241.5h2.4v4.1h-2.4zM79.7 245.6h2.3v4.1h-2.3zM79.7 257.9h2.3v4.2h-2.3zM79.7 295h2.3v4.1h-2.3zM94 311.4h2.4v4.2h-2.4zM79.7 348.5h2.3v4.1h-2.3zM79.7 364.9h2.3v4.2h-2.3zM79.7 385.5h2.3v4.1h-2.3z"/><path fill="#4771e9" d="M305.6 101.6h3v4.1h-3zM82 138.6h2.4v4.1h-2.4zM179.9 155.1h2.3v4.1h-2.3zM82 163.3h2.4v4.1h-2.4zM215.3 175.6h3v4.2h-3zM317.6 183.9h3v4.1h-3zM191.3 220.9h3v4.1h-3zM308.6 249.7h3v4.1h-3zM302.6 253.8h3v4.1h-3zM360 253.8h5.6v4.1h-5.6zM293.5 257.9h3v4.2h-3zM337.5 274.4h5.6v4.1h-5.6zM242.4 286.8h3v4.1h-3zM209.3 290.9h3v4.1h-3zM194.3 299.1h3v4.1h-3zM299.5 299.1h3.1v4.1h-3.1zM287.5 307.3h3v4.1h-3zM254.4 311.4h3v4.2h-3zM194.3 315.6h3v4.1h-3zM227.4 315.6h3v4.1h-3zM275.5 323.8h3v4.1h-3zM215.3 327.9h3v4.1h-3zM257.4 332h3v4.1h-3zM227.4 336.1h3v4.1h-3zM320.6 340.2h5.6v4.2h-5.6zM348.8 352.6h5.6v4.1h-5.6zM314.6 356.7h3v4.1h-3zM326.2 360.8h5.7v4.1h-5.7zM185.3 373.2h3v4.1h-3zM200.3 373.2h3v4.1h-3zM290.5 373.2h3v4.1h-3zM194.3 393.7h3v4.2h-3zM293.5 397.9h3v4.1h-3zM242.4 406.1h3v4.1h-3zM337.5 406.1h5.6v4.1h-5.6z"/><path fill="#8bff4b" d="M79.7 105.7h2.3v4.1h-2.3zM79.7 113.9h2.3v4.1h-2.3zM158.4 126.3h2.4v4.1h-2.4zM158.4 151h2.4v4.1h-2.4zM151.2 163.3h2.4v4.1h-2.4zM86.8 171.5h2.4v4.1h-2.4zM79.7 179.8h2.3v4.1h-2.3zM86.8 196.2h2.4v4.1h-2.4zM79.7 212.7h2.3v4.1h-2.3zM86.8 212.7h2.4v4.1h-2.4zM144.1 212.7h2.4v4.1h-2.4zM79.7 229.1h2.3v4.2h-2.3zM79.7 241.5h2.3v4.1h-2.3zM94 245.6h2.4v4.1h-2.4zM94 249.7h2.4v4.1h-2.4zM94 253.8h2.4v4.1h-2.4zM94 274.4h2.4v4.1h-2.4zM94 295h2.4v4.1h-2.4zM86.8 303.2h2.4v4.1h-2.4zM86.8 311.4h2.4v4.2h-2.4zM86.8 315.6h2.4v4.1h-2.4zM94 315.6h2.4v4.1h-2.4zM79.7 319.7h2.3v4.1h-2.3zM86.8 319.7h2.4v4.1h-2.4zM79.7 360.8h2.3v4.1h-2.3z"/><path fill="#a9fb39" d="M156 105.7h2.4v4.1h-2.4z"/><path fill="#79fe59" d="M172.7 105.7h2.4v4.1h-2.4zM101.1 138.6h2.4v4.1h-2.4zM129.8 163.3h2.3v4.1h-2.3zM86.8 352.6h2.4v4.1h-2.4zM115.4 385.5h2.4v4.1h-2.4z"/><path fill="#4776ee" d="M84.4 109.8h2.4v4.1h-2.4zM89.2 109.8h2.4v4.1h-2.4zM96.4 118h2.3v4.2h-2.3zM305.6 138.6h3v4.1h-3zM84.4 142.7h2.4v4.1h-2.4zM89.2 155.1h2.4v4.1h-2.4zM125 159.2h2.4v4.1h-2.4zM117.8 179.8h2.4v4.1h-2.4zM84.4 183.9h2.4v4.1h-2.4zM91.6 183.9h2.4v4.1h-2.4zM110.7 188h2.4v4.1h-2.4zM120.2 188h2.4v4.1h-2.4zM188.3 188h3v4.1h-3zM91.6 196.2h2.4v4.1h-2.4zM308.6 196.2h3v4.1h-3zM354.4 196.2h5.6v4.1h-5.6zM103.5 200.3h2.4v4.1h-2.4zM160.8 200.3h2.4v4.1h-2.4zM317.6 200.3h3v4.1h-3zM194.3 212.7h6v4.1h-6zM233.4 212.7h3v4.1h-3zM320.6 225h5.6v4.1h-5.6zM163.2 229.1h2.3v4.2h-2.3zM236.4 229.1h3v4.2h-3zM120.2 237.4h2.4v4.1h-2.4zM82 241.5h2.4v4.1h-2.4zM103.5 241.5h2.4v4.1h-2.4zM120.2 241.5h2.4v4.1h-2.4zM281.5 241.5h3v4.1h-3zM91.6 245.6h2.4v4.1h-2.4zM215.3 245.6h3v4.1h-3zM348.8 245.6h5.6v4.1h-5.6zM84.4 249.7h2.4v4.1h-2.4zM165.5 249.7h2.4v4.1h-2.4zM242.4 253.8h3v4.1h-3zM194.3 257.9h3v4.2h-3zM290.5 257.9h3v4.2h-3zM89.2 262.1h2.4v4.1h-2.4zM314.6 262.1h3v4.1h-3zM160.8 266.2h2.4v4.1h-2.4zM172.7 266.2h2.4v4.1h-2.4zM177.5 266.2h2.4v4.1h-2.4zM287.5 266.2h3v4.1h-3zM82 270.3h2.4v4.1h-2.4zM299.5 270.3h3.1v4.1h-3.1zM251.4 274.4h3v4.1h-3zM89.2 278.5h4.8v4.1h-4.8zM105.9 278.5h2.4v4.1h-2.4zM260.4 282.6h3.1v4.2h-3.1zM103.5 286.8h2.4v4.1h-2.4zM160.8 286.8h2.4v4.1h-2.4zM179.9 286.8h2.3v4.1h-2.3zM230.4 286.8h3v4.1h-3zM248.4 286.8h3v4.1h-3zM134.5 290.9h2.4v4.1h-2.4zM163.2 290.9h2.3v4.1h-2.3zM212.3 290.9h3v4.1h-3zM98.7 295h2.4v4.1h-2.4zM103.5 299.1h4.8v4.1h-4.8zM136.9 299.1h2.4v4.1h-2.4zM326.2 299.1h5.7v4.1h-5.7zM89.2 303.2h2.4v4.1h-2.4zM305.6 307.3h3v4.1h-3zM113.1 311.4h2.3v4.2h-2.3zM278.5 315.6h3v4.1h-3zM105.9 323.8h2.4v4.1h-2.4zM117.8 327.9h2.4v4.1h-2.4zM278.5 327.9h3v4.1h-3zM260.4 332h6.1v4.1h-6.1zM343.1 332h5.7v4.1h-5.7zM91.6 336.1h2.4v4.1h-2.4zM251.4 340.2h3v4.2h-3zM296.5 340.2h3v4.2h-3zM167.9 344.4h2.4v4.1h-2.4zM172.7 344.4h2.4v4.1h-2.4zM170.3 348.5h2.4v4.1h-2.4zM177.5 348.5h2.4v4.1h-2.4zM105.9 352.6h2.4v4.1h-2.4zM113.1 352.6h2.3v4.1h-2.3zM203.3 352.6h3v4.1h-3zM281.5 356.7h3v4.1h-3zM337.5 356.7h5.6v4.1h-5.6zM96.4 360.8h2.3v4.1h-2.3zM110.7 360.8h4.7v4.1h-4.7zM296.5 360.8h3v4.1h-3zM91.6 364.9h2.4v4.2h-2.4zM248.4 364.9h3v4.2h-3zM110.7 369.1h2.4v4.1h-2.4zM163.2 369.1h2.3v4.1h-2.3zM269.5 369.1h3v4.1h-3zM360 369.1h5.6v4.1h-5.6zM177.5 377.3h2.4v4.1h-2.4zM233.4 381.4h3v4.1h-3zM82 389.6h2.4v4.1h-2.4zM160.8 389.6h2.4v4.1h-2.4zM308.6 389.6h3v4.1h-3zM110.7 393.7h2.4v4.2h-2.4zM175.1 397.9h2.4v4.1h-2.4zM98.7 402h2.4v4.1h-2.4zM113.1 402h2.3v4.1h-2.3zM96.4 406.1h2.3v4.1h-2.3zM113.1 406.1h2.3v4.1h-2.3zM188.3 406.1h3v4.1h-3z"/><path fill="#4778f0" d="M132.1 109.8h2.4v4.1h-2.4zM89.2 126.3h2.4v4.1h-2.4zM84.4 134.5h2.4v4.1h-2.4zM96.4 151h2.3v4.1h-2.3zM127.4 151h2.4v4.1h-2.4zM84.4 159.2h2.4v4.1h-2.4zM82 179.8h2.4v4.1h-2.4zM167.9 179.8h2.4v4.1h-2.4zM82 192.1h2.4v4.1h-2.4zM177.5 196.2h2.4v4.1h-2.4zM82 200.3h2.4v4.1h-2.4zM96.4 204.4h2.3v4.2h-2.3zM185.3 208.6h3v4.1h-3zM96.4 216.8h2.3v4.1h-2.3zM197.3 220.9h3v4.1h-3zM132.1 225h2.4v4.1h-2.4zM103.5 229.1h2.4v4.2h-2.4zM175.1 229.1h2.4v4.2h-2.4zM160.8 233.3h2.4v4.1h-2.4zM200.3 233.3h3v4.1h-3zM165.5 237.4h2.4v4.1h-2.4zM191.3 245.6h3v4.1h-3zM203.3 245.6h3v4.1h-3zM103.5 249.7h2.4v4.1h-2.4zM146.5 249.7h2.3v4.1h-2.3zM163.2 249.7h2.3v4.1h-2.3zM218.3 249.7h3v4.1h-3zM170.3 257.9h2.4v4.2h-2.4zM302.6 257.9h3v4.2h-3zM308.6 262.1h3v4.1h-3zM317.6 262.1h3v4.1h-3zM117.8 270.3h2.4v4.1h-2.4zM82 274.4h2.4v4.1h-2.4zM117.8 274.4h2.4v4.1h-2.4zM117.8 278.5h2.4v4.1h-2.4zM163.2 278.5h2.3v4.1h-2.3zM227.4 286.8h3v4.1h-3zM320.6 286.8h5.6v4.1h-5.6zM331.9 286.8h5.6v4.1h-5.6zM91.6 290.9h2.4v4.1h-2.4zM105.9 295h2.4v4.1h-2.4zM132.1 295h2.4v4.1h-2.4zM132.1 299.1h2.4v4.1h-2.4zM290.5 299.1h3v4.1h-3zM163.2 303.2h2.3v4.1h-2.3zM96.4 307.3h2.3v4.1h-2.3zM163.2 307.3h2.3v4.1h-2.3zM103.5 311.4h2.4v4.2h-2.4zM165.5 311.4h2.4v4.2h-2.4zM260.4 311.4h3.1v4.2h-3.1zM194.3 319.7h3v4.1h-3zM296.5 319.7h3v4.1h-3zM84.4 323.8h2.4v4.1h-2.4zM299.5 323.8h3.1v4.1h-3.1zM91.6 327.9h2.4v4.1h-2.4zM96.4 327.9h2.3v4.1h-2.3zM227.4 332h3v4.1h-3zM348.8 332h5.6v4.1h-5.6zM177.5 336.1h2.4v4.1h-2.4zM242.4 336.1h6v4.1h-6zM314.6 340.2h3v4.2h-3zM136.9 344.4h2.4v4.1h-2.4zM136.9 348.5h2.4v4.1h-2.4zM284.5 348.5h3v4.1h-3zM110.7 352.6h2.4v4.1h-2.4zM120.2 352.6h2.4v4.1h-2.4zM185.3 356.7h3v4.1h-3zM257.4 356.7h3v4.1h-3zM125 360.8h2.4v4.1h-2.4zM125 364.9h2.4v4.2h-2.4zM260.4 364.9h3.1v4.2h-3.1zM167.9 373.2h2.4v4.1h-2.4zM263.5 373.2h3v4.1h-3zM302.6 373.2h3v4.1h-3zM84.4 381.4h2.4v4.1h-2.4zM165.5 381.4h2.4v4.1h-2.4zM284.5 381.4h3v4.1h-3zM110.7 385.5h2.4v4.1h-2.4zM163.2 385.5h2.3v4.1h-2.3zM236.4 385.5h3v4.1h-3zM302.6 389.6h3v4.1h-3zM96.4 393.7h2.3v4.2h-2.3zM98.7 397.9h2.4v4.1h-2.4zM163.2 397.9h2.3v4.1h-2.3zM91.6 406.1h2.4v4.1h-2.4zM170.3 406.1h2.4v4.1h-2.4zM175.1 406.1h2.4v4.1h-2.4zM218.3 406.1h3v4.1h-3zM305.6 406.1h3v4.1h-3z"/><path fill="#bef434" d="M156 109.8h2.4v4.1h-2.4zM94 200.3h2.4v4.1h-2.4z"/><path fill="#467df4" d="M305.6 109.8h3v4.1h-3zM89.2 113.9h2.4v4.1h-2.4zM163.2 113.9h2.3v4.1h-2.3zM89.2 134.5h2.4v4.1h-2.4zM125 138.6h2.4v4.1h-2.4zM89.2 146.8h2.4v4.2h-2.4zM127.4 159.2h2.4v4.1h-2.4zM113.1 175.6h2.3v4.2h-2.3zM218.3 188h3v4.1h-3zM91.6 192.1h2.4v4.1h-2.4zM197.3 192.1h3v4.1h-3zM296.5 192.1h3v4.1h-3zM84.4 200.3h2.4v4.1h-2.4zM156 200.3h2.4v4.1h-2.4zM160.8 216.8h2.4v4.1h-2.4zM343.1 229.1h5.7v4.2h-5.7zM177.5 237.4h2.4v4.1h-2.4zM257.4 241.5h3v4.1h-3zM160.8 245.6h2.4v4.1h-2.4zM260.4 249.7h3.1v4.1h-3.1zM172.7 253.8h2.4v4.1h-2.4zM215.3 253.8h3v4.1h-3zM311.6 253.8h3v4.1h-3zM84.4 257.9h2.4v4.2h-2.4zM117.8 262.1h2.4v4.1h-2.4zM203.3 262.1h3v4.1h-3zM287.5 262.1h3v4.1h-3zM343.1 262.1h5.7v4.1h-5.7zM91.6 266.2h2.4v4.1h-2.4zM96.4 266.2h2.3v4.1h-2.3zM245.4 266.2h3v4.1h-3zM89.2 270.3h2.4v4.1h-2.4zM98.7 270.3h2.4v4.1h-2.4zM113.1 270.3h2.3v4.1h-2.3zM236.4 270.3h3v4.1h-3zM278.5 270.3h3v4.1h-3zM302.6 270.3h3v4.1h-3zM165.5 274.4h2.4v4.1h-2.4zM175.1 274.4h2.4v4.1h-2.4zM281.5 274.4h3v4.1h-3zM103.5 278.5h2.4v4.1h-2.4zM170.3 278.5h2.4v4.1h-2.4zM163.2 282.6h4.7v4.2h-4.7zM257.4 282.6h3v4.2h-3zM296.5 282.6h3v4.2h-3zM82 290.9h2.4v4.1h-2.4zM167.9 290.9h2.4v4.1h-2.4zM175.1 290.9h2.4v4.1h-2.4zM134.5 295h2.4v4.1h-2.4zM160.8 295h2.4v4.1h-2.4zM269.5 295h3v4.1h-3zM91.6 299.1h2.4v4.1h-2.4zM170.3 299.1h4.8v4.1h-4.8zM177.5 299.1h2.4v4.1h-2.4zM160.8 307.3h2.4v4.1h-2.4zM191.3 307.3h3v4.1h-3zM82 311.4h2.4v4.2h-2.4zM98.7 311.4h2.4v4.2h-2.4zM136.9 311.4h2.4v4.2h-2.4zM218.3 311.4h3v4.2h-3zM299.5 315.6h3.1v4.1h-3.1zM89.2 319.7h2.4v4.1h-2.4zM103.5 319.7h4.8v4.1h-4.8zM110.7 319.7h4.7v4.1h-4.7zM188.3 319.7h3v4.1h-3zM89.2 323.8h2.4v4.1h-2.4zM110.7 323.8h4.7v4.1h-4.7zM98.7 327.9h2.4v4.1h-2.4zM158.4 327.9h4.8v4.1h-4.8zM84.4 332h2.4v4.1h-2.4zM209.3 332h3v4.1h-3zM230.4 332h3v4.1h-3zM287.5 332h3v4.1h-3zM117.8 336.1h2.4v4.1h-2.4zM170.3 336.1h2.4v4.1h-2.4zM98.7 340.2h2.4v4.2h-2.4zM105.9 340.2h2.4v4.2h-2.4zM120.2 340.2h2.4v4.2h-2.4zM163.2 340.2h2.3v4.2h-2.3zM287.5 348.5h3v4.1h-3zM103.5 352.6h2.4v4.1h-2.4zM132.1 352.6h2.4v4.1h-2.4zM167.9 352.6h2.4v4.1h-2.4zM175.1 352.6h2.4v4.1h-2.4zM305.6 352.6h3v4.1h-3zM105.9 356.7h2.4v4.1h-2.4zM117.8 356.7h2.4v4.1h-2.4zM84.4 360.8h2.4v4.1h-2.4zM105.9 364.9h2.4v4.2h-2.4zM263.5 364.9h3v4.2h-3zM103.5 369.1h2.4v4.1h-2.4zM91.6 373.2h2.4v4.1h-2.4zM113.1 373.2h2.3v4.1h-2.3zM317.6 373.2h3v4.1h-3zM331.9 373.2h5.6v4.1h-5.6zM170.3 377.3h2.4v4.1h-2.4zM299.5 377.3h3.1v4.1h-3.1zM254.4 381.4h3v4.1h-3zM317.6 381.4h3v4.1h-3zM82 385.5h2.4v4.1h-2.4zM160.8 385.5h2.4v4.1h-2.4zM172.7 385.5h2.4v4.1h-2.4zM179.9 385.5h2.3v4.1h-2.3zM113.1 389.6h2.3v4.1h-2.3zM167.9 389.6h2.4v4.1h-2.4zM260.4 389.6h3.1v4.1h-3.1zM117.8 393.7h2.4v4.2h-2.4zM206.3 393.7h3v4.2h-3zM233.4 393.7h3v4.2h-3zM96.4 397.9h2.3v4.1h-2.3zM158.4 402h2.4v4.1h-2.4zM302.6 402h3v4.1h-3zM82 406.1h2.4v4.1h-2.4zM158.4 406.1h2.4v4.1h-2.4zM272.5 406.1h3v4.1h-3zM314.6 406.1h3v4.1h-3zM371.3 406.1h5.6v4.1h-5.6zM382.5 406.1h5.7v4.1h-5.7z"/><path fill="#4196ff" d="M105.9 113.9h2.4v4.1h-2.4zM160.8 134.5h2.4v4.1h-2.4zM209.3 204.4h3v4.2h-3zM191.3 208.6h3v4.1h-3zM89.2 216.8h2.4v4.1h-2.4zM206.3 220.9h3v4.1h-3zM89.2 229.1h2.4v4.2h-2.4zM89.2 237.4h2.4v4.1h-2.4zM117.8 237.4h2.4v4.1h-2.4zM125 241.5h2.4v4.1h-2.4zM212.3 241.5h3v4.1h-3zM194.3 249.7h3v4.1h-3zM89.2 253.8h2.4v4.1h-2.4zM218.3 266.2h3v4.1h-3zM194.3 290.9h3v4.1h-3zM122.6 295h2.4v4.1h-2.4zM209.3 307.3h3v4.1h-3zM122.6 315.6h2.4v4.1h-2.4zM185.3 323.8h3v4.1h-3zM179.9 332h2.3v4.1h-2.3zM200.3 332h3v4.1h-3zM125 340.2h2.4v4.2h-2.4zM117.8 344.4h2.4v4.1h-2.4zM89.2 360.8h2.4v4.1h-2.4zM200.3 369.1h3v4.1h-3zM227.4 373.2h3v4.1h-3zM89.2 393.7h2.4v4.2h-2.4zM206.3 406.1h3v4.1h-3z"/><path fill="#b1f936" d="M156 113.9h2.4v4.1h-2.4zM94 171.5h2.4v4.1h-2.4zM94 204.4h2.4v4.2h-2.4z"/><path fill="#96fe44" d="M79.7 118h2.3v4.2h-2.3zM86.8 118h2.4v4.2h-2.4zM79.7 122.2h2.3v4.1h-2.3zM86.8 126.3h2.4v4.1h-2.4zM151.2 126.3h2.4v4.1h-2.4zM86.8 130.4h2.4v4.1h-2.4zM151.2 134.5h2.4v4.1h-2.4zM158.4 134.5h2.4v4.1h-2.4zM79.7 146.8h2.3v4.2h-2.3zM158.4 146.8h2.4v4.2h-2.4zM151.2 159.2h2.4v4.1h-2.4zM158.4 163.3h2.4v4.1h-2.4zM144.1 175.6h2.4v4.2h-2.4zM86.8 179.8h2.4v4.1h-2.4zM79.7 183.9h2.3v4.1h-2.3zM79.7 196.2h2.3v4.1h-2.3zM108.3 212.7h2.4v4.1h-2.4zM79.7 216.8h2.3v4.1h-2.3zM79.7 233.3h2.3v4.1h-2.3zM94 233.3h2.4v4.1h-2.4zM86.8 286.8h2.4v4.1h-2.4zM94 290.9h2.4v4.1h-2.4zM86.8 323.8h2.4v4.1h-2.4zM94 327.9h2.4v4.1h-2.4zM79.7 344.4h2.3v4.1h-2.3zM94 348.5h2.4v4.1h-2.4zM158.4 360.8h2.4v4.1h-2.4zM79.7 381.4h2.3v4.1h-2.3zM79.7 406.1h2.3v4.1h-2.3z"/><path fill="#92ff47" d="M86.8 122.2h2.4v4.1h-2.4zM94 126.3h2.4v4.1h-2.4zM158.4 130.4h2.4v4.1h-2.4zM79.7 134.5h2.3v4.1h-2.3zM86.8 163.3h2.4v4.1h-2.4zM79.7 167.4h2.3v4.1h-2.3zM144.1 192.1h2.4v4.1h-2.4zM144.1 196.2h2.4v4.1h-2.4zM86.8 204.4h2.4v4.2h-2.4zM101.1 208.6h2.4v4.1h-2.4zM115.4 208.6h2.4v4.1h-2.4zM115.4 212.7h2.4v4.1h-2.4zM94 216.8h2.4v4.1h-2.4zM79.7 225h2.3v4.1h-2.3zM79.7 274.4h2.3v4.1h-2.3zM79.7 282.6h2.3v4.2h-2.3zM86.8 295h2.4v4.1h-2.4zM79.7 311.4h2.3v4.2h-2.3zM94 323.8h2.4v4.1h-2.4zM79.7 327.9h2.3v4.1h-2.3zM86.8 336.1h2.4v4.1h-2.4zM94 336.1h2.4v4.1h-2.4zM79.7 340.2h2.3v4.2h-2.3zM101.1 348.5h2.4v4.1h-2.4zM79.7 373.2h2.3v4.1h-2.3z"/><path fill="#4666dd" d="M91.6 122.2h2.4v4.1h-2.4zM82 130.4h2.4v4.1h-2.4zM84.4 151h2.4v4.1h-2.4zM218.3 179.8h3v4.1h-3zM182.2 196.2h3.1v4.1h-3.1zM212.3 196.2h3v4.1h-3zM218.3 208.6h3v4.1h-3zM194.3 233.3h3v4.1h-3zM299.5 237.4h3.1v4.1h-3.1zM296.5 241.5h3v4.1h-3zM360 241.5h5.6v4.1h-5.6zM275.5 253.8h3v4.1h-3zM230.4 262.1h3v4.1h-3zM278.5 266.2h3v4.1h-3zM337.5 266.2h5.6v4.1h-5.6zM182.2 270.3h3.1v4.1h-3.1zM215.3 278.5h3v4.1h-3zM305.6 295h3v4.1h-3zM248.4 303.2h3v4.1h-3zM269.5 311.4h3v4.2h-3zM337.5 311.4h5.6v4.2h-5.6zM185.3 315.6h3v4.1h-3zM337.5 315.6h5.6v4.1h-5.6zM182.2 319.7h3.1v4.1h-3.1zM227.4 319.7h3v4.1h-3zM326.2 319.7h5.7v4.1h-5.7zM236.4 323.8h3v4.1h-3zM290.5 323.8h3v4.1h-3zM188.3 336.1h3v4.1h-3zM194.3 336.1h3v4.1h-3zM194.3 344.4h3v4.1h-3zM239.4 344.4h3v4.1h-3zM354.4 348.5h5.6v4.1h-5.6zM227.4 352.6h3v4.1h-3zM236.4 352.6h3v4.1h-3zM248.4 360.8h3v4.1h-3zM266.5 377.3h3v4.1h-3zM194.3 381.4h3v4.1h-3zM302.6 381.4h3v4.1h-3zM272.5 385.5h3v4.1h-3zM284.5 385.5h3v4.1h-3zM299.5 393.7h3.1v4.2h-3.1zM239.4 402h3v4.1h-3z"/><path fill="#acfb38" d="M156 122.2h2.4v4.1h-2.4z"/><path fill="#466be3" d="M305.6 122.2h3v4.1h-3zM84.4 126.3h2.4v4.1h-2.4zM179.9 175.6h2.3v4.2h-2.3zM200.3 183.9h3v4.1h-3zM209.3 200.3h3v4.1h-3zM179.9 233.3h2.3v4.1h-2.3zM278.5 245.6h3v4.1h-3zM233.4 253.8h3v4.1h-3zM224.4 257.9h3v4.2h-3zM272.5 257.9h3v4.2h-3zM179.9 266.2h2.3v4.1h-2.3zM197.3 266.2h3v4.1h-3zM230.4 270.3h3v4.1h-3zM278.5 274.4h3v4.1h-3zM251.4 278.5h3v4.1h-3zM314.6 282.6h3v4.2h-3zM348.8 282.6h5.6v4.2h-5.6zM200.3 290.9h3v4.1h-3zM212.3 295h6v4.1h-6zM302.6 303.2h3v4.1h-3zM233.4 307.3h3v4.1h-3zM206.3 332h3v4.1h-3zM245.4 332h3v4.1h-3zM281.5 332h3v4.1h-3zM360 332h5.6v4.1h-5.6zM245.4 348.5h3v4.1h-3zM200.3 356.7h3v4.1h-3zM275.5 360.8h3v4.1h-3zM257.4 364.9h3v4.2h-3zM278.5 369.1h3v4.1h-3zM354.4 373.2h5.6v4.1h-5.6zM275.5 377.3h3v4.1h-3zM348.8 377.3h11.2v4.1h-11.2zM188.3 381.4h3v4.1h-3zM311.6 385.5h3v4.1h-3zM185.3 389.6h3v4.1h-3zM287.5 393.7h3v4.2h-3zM343.1 397.9h5.7v4.1h-5.7zM203.3 402h3v4.1h-3zM242.4 402h3v4.1h-3z"/><path fill="#4294ff" d="M239.4 130.4h3v4.1h-3zM117.8 134.5h2.4v4.1h-2.4zM175.1 134.5h2.4v4.1h-2.4zM194.3 134.5h6v4.1h-6zM194.3 142.7h6v4.1h-6zM117.8 146.8h2.4v4.2h-2.4zM239.4 200.3h3v4.1h-3zM239.4 204.4h3v4.2h-3zM239.4 208.6h3v4.1h-3zM239.4 212.7h3v4.1h-3zM239.4 216.8h3v4.1h-3zM239.4 220.9h3v4.1h-3zM239.4 225h3v4.1h-3zM239.4 229.1h3v4.2h-3zM251.4 233.3h6v4.1h-6zM182.2 237.4h3.1v4.1h-3.1zM200.3 253.8h3v4.1h-3zM218.3 257.9h3v4.2h-3zM179.9 282.6h2.3v4.2h-2.3zM188.3 299.1h3v4.1h-3zM122.6 303.2h2.4v4.1h-2.4zM206.3 340.2h3v4.2h-3zM206.3 348.5h3v4.1h-3zM218.3 352.6h3v4.1h-3zM212.3 377.3h3v4.1h-3zM218.3 381.4h3v4.1h-3zM215.3 385.5h3v4.1h-3zM209.3 402h3v4.1h-3z"/><path fill="#3f3e9c" d="M317.6 134.5h3v4.1h-3zM317.6 142.7h3v4.1h-3zM314.6 159.2h3v4.1h-3zM326.2 233.3h5.7v4.1h-5.7zM337.5 233.3h5.6v4.1h-5.6zM326.2 249.7h5.7v4.1h-5.7zM388.2 249.7h5.6v4.1h-5.6zM365.6 315.6h5.7v4.1h-5.7zM326.2 323.8h5.7v4.1h-5.7zM354.4 332h5.6v4.1h-5.6zM348.8 356.7h5.6v4.1h-5.6zM320.6 406.1h5.6v4.1h-5.6z"/><path fill="#3ba0fd" d="M160.8 138.6h2.4v4.1h-2.4zM227.4 192.1h3v4.1h-3zM117.8 220.9h2.4v4.1h-2.4zM89.2 225h2.4v4.1h-2.4zM179.9 241.5h2.3v4.1h-2.3zM227.4 311.4h3v4.2h-3zM120.2 319.7h2.4v4.1h-2.4zM120.2 323.8h2.4v4.1h-2.4zM218.3 332h3v4.1h-3zM153.6 348.5h2.4v4.1h-2.4zM182.2 356.7h3.1v4.1h-3.1zM89.2 373.2h2.4v4.1h-2.4zM179.9 389.6h2.3v4.1h-2.3zM89.2 402h2.4v4.1h-2.4zM89.2 406.1h2.4v4.1h-2.4z"/><path fill="#80ff53" d="M151.2 142.7h2.4v4.1h-2.4zM94 151h2.4v4.1h-2.4zM86.8 188h2.4v4.1h-2.4zM94 225h2.4v4.1h-2.4zM79.7 253.8h2.3v4.1h-2.3zM86.8 307.3h2.4v4.1h-2.4zM86.8 344.4h2.4v4.1h-2.4z"/><path fill="#4669e0" d="M305.6 151h3v4.1h-3zM182.2 175.6h3.1v4.2h-3.1zM331.9 175.6h5.6v4.2h-5.6zM191.3 179.8h3v4.1h-3zM203.3 192.1h3v4.1h-3zM314.6 196.2h3v4.1h-3zM331.9 208.6h5.6v4.1h-5.6zM299.5 216.8h3.1v4.1h-3.1zM194.3 237.4h3v4.1h-3zM248.4 237.4h3v4.1h-3zM354.4 245.6h5.6v4.1h-5.6zM302.6 249.7h3v4.1h-3zM317.6 257.9h3v4.2h-3zM284.5 262.1h3v4.1h-3zM311.6 274.4h3v4.1h-3zM337.5 278.5h5.6v4.1h-5.6zM212.3 282.6h3v4.2h-3zM194.3 286.8h3v4.1h-3zM284.5 290.9h3v4.1h-3zM305.6 290.9h3v4.1h-3zM337.5 303.2h5.6v4.1h-5.6zM191.3 311.4h3v4.2h-3zM260.4 315.6h3.1v4.1h-3.1zM320.6 315.6h5.6v4.1h-5.6zM203.3 327.9h3v4.1h-3zM290.5 332h3v4.1h-3zM343.1 336.1h5.7v4.1h-5.7zM254.4 344.4h3v4.1h-3zM260.4 344.4h3.1v4.1h-3.1zM278.5 344.4h3v4.1h-3zM299.5 344.4h3.1v4.1h-3.1zM212.3 356.7h3v4.1h-3zM233.4 360.8h3v4.1h-3zM284.5 360.8h3v4.1h-3zM337.5 360.8h5.6v4.1h-5.6zM227.4 364.9h3v4.2h-3zM360 364.9h5.6v4.2h-5.6zM263.5 369.1h3v4.1h-3zM206.3 373.2h3v4.1h-3zM212.3 373.2h3v4.1h-3zM248.4 377.3h3v4.1h-3zM287.5 377.3h3v4.1h-3zM239.4 381.4h3v4.1h-3zM302.6 385.5h3v4.1h-3zM331.9 393.7h5.6v4.2h-5.6zM293.5 402h3v4.1h-3zM314.6 402h3v4.1h-3zM348.8 402h5.6v4.1h-5.6zM299.5 406.1h3.1v4.1h-3.1zM326.2 406.1h5.7v4.1h-5.7zM376.9 406.1h5.6v4.1h-5.6z"/><path fill="#4661d6" d="M82 155.1h2.4v4.1h-2.4zM236.4 183.9h3v4.1h-3zM206.3 204.4h3v4.2h-3zM185.3 212.7h3v4.1h-3zM331.9 216.8h5.6v4.1h-5.6zM212.3 229.1h3v4.2h-3zM227.4 229.1h3v4.2h-3zM233.4 233.3h3v4.1h-3zM296.5 249.7h3v4.1h-3zM354.4 253.8h5.6v4.1h-5.6zM239.4 257.9h3v4.2h-3zM215.3 266.2h3v4.1h-3zM209.3 270.3h3v4.1h-3zM299.5 278.5h3.1v4.1h-3.1zM354.4 286.8h5.6v4.1h-5.6zM227.4 295h3v4.1h-3zM212.3 299.1h3v4.1h-3zM254.4 307.3h3v4.1h-3zM257.4 311.4h3v4.2h-3zM326.2 311.4h5.7v4.2h-5.7zM191.3 332h3v4.1h-3zM251.4 332h3v4.1h-3zM337.5 340.2h5.6v4.2h-5.6zM191.3 344.4h3v4.1h-3zM320.6 344.4h5.6v4.1h-5.6zM360 344.4h5.6v4.1h-5.6zM233.4 352.6h3v4.1h-3zM266.5 352.6h3v4.1h-3zM305.6 360.8h3v4.1h-3zM302.6 369.1h3v4.1h-3zM251.4 381.4h3v4.1h-3zM314.6 385.5h3v4.1h-3zM284.5 393.7h3v4.2h-3zM206.3 397.9h3v4.1h-3zM230.4 397.9h3v4.1h-3zM331.9 406.1h5.6v4.1h-5.6z"/><path fill="#a7fc3a" d="M94 163.3h2.4v4.1h-2.4zM94 183.9h2.4v4.1h-2.4zM94 196.2h2.4v4.1h-2.4z"/><path fill="#a4fc3c" d="M94 175.6h2.4v4.2h-2.4z"/><path fill="#424bb5" d="M320.6 175.6h5.6v4.2h-5.6zM236.4 225h3v4.1h-3zM296.5 225h3v4.1h-3zM421.9 229.1h5.7v4.2h-5.7zM260.4 233.3h3.1v4.1h-3.1zM331.9 233.3h5.6v4.1h-5.6zM236.4 237.4h3v4.1h-3zM242.4 237.4h3v4.1h-3zM278.5 249.7h3v4.1h-3zM343.1 249.7h5.7v4.1h-5.7zM251.4 257.9h3v4.2h-3zM382.5 257.9h5.7v4.2h-5.7zM233.4 262.1h3v4.1h-3zM299.5 262.1h3.1v4.1h-3.1zM331.9 262.1h5.6v4.1h-5.6zM405.1 266.2h5.6v4.1h-5.6zM275.5 282.6h3v4.2h-3zM302.6 286.8h3v4.1h-3zM326.2 290.9h5.7v4.1h-5.7zM278.5 311.4h3v4.2h-3zM308.6 327.9h3v4.1h-3zM284.5 340.2h3v4.2h-3zM236.4 344.4h3v4.1h-3zM371.3 344.4h5.6v4.1h-5.6zM248.4 348.5h3v4.1h-3zM251.4 352.6h3v4.1h-3zM287.5 352.6h3v4.1h-3zM293.5 381.4h3v4.1h-3zM260.4 385.5h3.1v4.1h-3.1zM236.4 397.9h3v4.1h-3zM275.5 406.1h3v4.1h-3zM343.1 406.1h5.7v4.1h-5.7z"/><path fill="#b9f635" d="M94 179.8h2.4v4.1h-2.4zM94 192.1h2.4v4.1h-2.4z"/><path fill="#4143a7" d="M331.9 179.8h5.6v4.1h-5.6zM343.1 208.6h5.7v4.1h-5.7zM371.3 249.7h5.6v4.1h-5.6zM393.8 249.7h5.6v4.1h-5.6zM365.6 262.1h5.7v4.1h-5.7zM365.6 266.2h5.7v4.1h-5.7zM365.6 274.4h5.7v4.1h-5.7zM326.2 356.7h5.7v4.1h-5.7zM382.5 364.9h5.7v4.2h-5.7zM348.8 381.4h5.6v4.1h-5.6zM320.6 397.9h5.6v4.1h-5.6zM320.6 402h5.6v4.1h-5.6z"/><path fill="#b4f836" d="M94 188h2.4v4.1h-2.4z"/><path fill="#4559cb" d="M188.3 192.1h3v4.1h-3zM224.4 196.2h3v4.1h-3zM296.5 212.7h3v4.1h-3zM191.3 249.7h3v4.1h-3zM251.4 249.7h3v4.1h-3zM200.3 257.9h3v4.2h-3zM245.4 257.9h3v4.2h-3zM236.4 262.1h3v4.1h-3zM263.5 274.4h3v4.1h-3zM326.2 286.8h5.7v4.1h-5.7zM242.4 290.9h3v4.1h-3zM311.6 299.1h3v4.1h-3zM311.6 303.2h3v4.1h-3zM233.4 315.6h3v4.1h-3zM281.5 315.6h3v4.1h-3zM296.5 315.6h3v4.1h-3zM275.5 319.7h3v4.1h-3zM305.6 319.7h3v4.1h-3zM311.6 319.7h3v4.1h-3zM242.4 327.9h3v4.1h-3zM354.4 327.9h5.6v4.1h-5.6zM203.3 340.2h3v4.2h-3zM354.4 340.2h5.6v4.2h-5.6zM290.5 352.6h3v4.1h-3zM194.3 356.7h3v4.1h-3zM320.6 356.7h5.6v4.1h-5.6zM296.5 364.9h3v4.2h-3zM308.6 364.9h3v4.2h-3zM290.5 369.1h3v4.1h-3zM278.5 385.5h3v4.1h-3zM348.8 385.5h5.6v4.1h-5.6zM287.5 397.9h3v4.1h-3zM388.2 406.1h5.6v4.1h-5.6zM416.3 406.1h5.6v4.1h-5.6z"/><path fill="#4146ac" d="M365.6 196.2h5.7v4.1h-5.7zM314.6 220.9h3v4.1h-3zM365.6 229.1h5.7v4.2h-5.7zM337.5 241.5h5.6v4.1h-5.6zM314.6 249.7h3v4.1h-3zM242.4 270.3h3v4.1h-3zM305.6 274.4h3v4.1h-3zM284.5 278.5h3v4.1h-3zM290.5 290.9h3v4.1h-3zM251.4 295h3v4.1h-3zM278.5 295h3v4.1h-3zM365.6 295h5.7v4.1h-5.7zM343.1 303.2h5.7v4.1h-5.7zM296.5 307.3h3v4.1h-3zM305.6 311.4h3v4.2h-3zM272.5 315.6h3v4.1h-3zM245.4 319.7h3v4.1h-3zM284.5 319.7h3v4.1h-3zM376.9 327.9h5.6v4.1h-5.6zM233.4 332h3v4.1h-3zM308.6 332h3v4.1h-3zM371.3 332h5.6v4.1h-5.6zM245.4 340.2h3v4.2h-3zM272.5 344.4h3v4.1h-3zM230.4 352.6h3v4.1h-3zM317.6 352.6h3v4.1h-3zM257.4 360.8h3v4.1h-3zM314.6 360.8h3v4.1h-3zM308.6 377.3h3v4.1h-3zM365.6 389.6h5.7v4.1h-5.7zM263.5 393.7h3v4.2h-3zM284.5 402h3v4.1h-3z"/><path fill="#4ef97d" d="M115.4 200.3h2.4v4.1h-2.4zM115.4 295h2.4v4.1h-2.4zM188.3 360.8h3v4.1h-3zM86.8 406.1h2.4v4.1h-2.4z"/><path fill="#4249b1" d="M233.4 204.4h3v4.2h-3zM314.6 216.8h3v4.1h-3zM320.6 241.5h5.6v4.1h-5.6zM272.5 245.6h3v4.1h-3zM365.6 245.6h5.7v4.1h-5.7zM269.5 249.7h3v4.1h-3zM299.5 249.7h3.1v4.1h-3.1zM233.4 266.2h3v4.1h-3zM263.5 270.3h3v4.1h-3zM281.5 278.5h3v4.1h-3zM299.5 282.6h3.1v4.2h-3.1zM399.4 299.1h5.7v4.1h-5.7zM245.4 303.2h3v4.1h-3zM308.6 307.3h3v4.1h-3zM263.5 315.6h3v4.1h-3zM239.4 319.7h3v4.1h-3zM302.6 332h3v4.1h-3zM260.4 336.1h3.1v4.1h-3.1zM266.5 336.1h3v4.1h-3zM281.5 336.1h3v4.1h-3zM236.4 348.5h3v4.1h-3zM254.4 348.5h3v4.1h-3zM331.9 348.5h5.6v4.1h-5.6zM343.1 352.6h5.7v4.1h-5.7zM320.6 364.9h5.6v4.2h-5.6zM314.6 377.3h6v4.1h-6zM337.5 385.5h5.6v4.1h-5.6zM236.4 393.7h3v4.2h-3zM317.6 393.7h3v4.2h-3zM317.6 397.9h3v4.1h-3zM263.5 406.1h3v4.1h-3z"/><path fill="#4040a2" d="M320.6 208.6h5.6v4.1h-5.6zM320.6 245.6h5.6v4.1h-5.6zM337.5 257.9h5.6v4.2h-5.6zM416.3 262.1h5.6v4.1h-5.6zM343.1 348.5h5.7v4.1h-5.7zM382.5 352.6h5.7v4.1h-5.7z"/><path fill="#455ccf" d="M191.3 212.7h3v4.1h-3zM203.3 212.7h3v4.1h-3zM305.6 220.9h3v4.1h-3zM348.8 229.1h5.6v4.2h-5.6zM236.4 233.3h3v4.1h-3zM245.4 237.4h3v4.1h-3zM230.4 257.9h3v4.2h-3zM308.6 257.9h6v4.2h-6zM320.6 266.2h5.6v4.1h-5.6zM188.3 270.3h3v4.1h-3zM272.5 270.3h3v4.1h-3zM185.3 274.4h3v4.1h-3zM197.3 274.4h3v4.1h-3zM290.5 278.5h3v4.1h-3zM281.5 282.6h3v4.2h-3zM348.8 286.8h5.6v4.1h-5.6zM215.3 290.9h6v4.1h-6zM206.3 295h3v4.1h-3zM245.4 299.1h3v4.1h-3zM317.6 299.1h3v4.1h-3zM215.3 303.2h3v4.1h-3zM248.4 307.3h3v4.1h-3zM331.9 307.3h5.6v4.1h-5.6zM272.5 319.7h3v4.1h-3zM218.3 323.8h3v4.1h-3zM343.1 327.9h5.7v4.1h-5.7zM284.5 336.1h3v4.1h-3zM239.4 340.2h3v4.2h-3zM348.8 340.2h5.6v4.2h-5.6zM203.3 344.4h3v4.1h-3zM331.9 344.4h5.6v4.1h-5.6zM257.4 348.5h3v4.1h-3zM215.3 352.6h3v4.1h-3zM326.2 352.6h5.7v4.1h-5.7zM317.6 364.9h3v4.2h-3zM326.2 369.1h5.7v4.1h-5.7zM299.5 373.2h3.1v4.1h-3.1zM215.3 381.4h3v4.1h-3zM354.4 385.5h5.6v4.1h-5.6zM263.5 389.6h6v4.1h-6zM272.5 389.6h3v4.1h-3zM331.9 389.6h5.6v4.1h-5.6zM248.4 393.7h3v4.2h-3zM278.5 393.7h3v4.2h-3zM260.4 397.9h3.1v4.1h-3.1zM272.5 402h3v4.1h-3zM296.5 402h3v4.1h-3zM360 406.1h11.3v4.1h-11.3z"/><path fill="#4456c7" d="M233.4 225h3v4.1h-3zM308.6 229.1h3v4.2h-3zM269.5 241.5h3v4.1h-3zM242.4 249.7h3v4.1h-3zM326.2 253.8h5.7v4.1h-5.7zM272.5 266.2h3v4.1h-3zM305.6 266.2h3v4.1h-3zM314.6 270.3h3v4.1h-3zM314.6 274.4h3v4.1h-3zM248.4 278.5h3v4.1h-3zM233.4 286.8h3v4.1h-3zM230.4 290.9h3v4.1h-3zM242.4 311.4h3v4.2h-3zM302.6 319.7h3v4.1h-3zM337.5 336.1h5.6v4.1h-5.6zM287.5 344.4h3v4.1h-3zM305.6 356.7h3v4.1h-3zM337.5 364.9h5.6v4.2h-5.6zM293.5 369.1h3v4.1h-3zM254.4 377.3h3v4.1h-3zM331.9 377.3h5.6v4.1h-5.6zM251.4 389.6h3v4.1h-3zM305.6 393.7h3v4.2h-3zM337.5 393.7h5.6v4.2h-5.6zM233.4 406.1h3v4.1h-3zM405.1 406.1h5.6v4.1h-5.6z"/><path fill="#3e3891" d="M393.8 225h5.6v4.1h-5.6zM326.2 229.1h5.7v4.2h-5.7zM320.6 233.3h5.6v4.1h-5.6zM337.5 237.4h5.6v4.1h-5.6zM331.9 270.3h5.6v4.1h-5.6zM360 270.3h5.6v4.1h-5.6zM371.3 307.3h5.6v4.1h-5.6zM365.6 340.2h5.7v4.2h-5.7zM382.5 340.2h5.7v4.2h-5.7zM326.2 377.3h5.7v4.1h-5.7zM343.1 381.4h5.7v4.1h-5.7zM371.3 389.6h11.2v4.1h-11.2z"/><path fill="#4451bf" d="M317.6 233.3h3v4.1h-3zM293.5 237.4h3v4.1h-3zM236.4 241.5h3v4.1h-3zM331.9 241.5h5.6v4.1h-5.6zM388.2 245.6h5.6v4.1h-5.6zM233.4 249.7h3v4.1h-3zM233.4 257.9h3v4.2h-3zM266.5 257.9h3v4.2h-3zM242.4 262.1h3v4.1h-3zM269.5 262.1h3v4.1h-3zM317.6 290.9h3v4.1h-3zM275.5 299.1h3v4.1h-3zM365.6 299.1h5.7v4.1h-5.7zM272.5 303.2h3v4.1h-3zM393.8 303.2h5.6v4.1h-5.6zM251.4 307.3h3v4.1h-3zM263.5 307.3h3v4.1h-3zM266.5 315.6h3v4.1h-3zM317.6 319.7h3v4.1h-3zM275.5 332h3v4.1h-3zM284.5 332h3v4.1h-3zM242.4 340.2h3v4.2h-3zM242.4 369.1h3v4.1h-3zM239.4 373.2h3v4.1h-3zM245.4 381.4h3v4.1h-3zM365.6 393.7h11.3v4.2h-11.3zM284.5 397.9h3v4.1h-3zM278.5 402h3v4.1h-3z"/><path fill="#3f3b97" d="M337.5 253.8h5.6v4.1h-5.6zM331.9 278.5h5.6v4.1h-5.6zM365.6 319.7h5.7v4.1h-5.7zM348.8 327.9h5.6v4.1h-5.6zM348.8 364.9h5.6v4.2h-5.6zM410.7 369.1h5.6v4.1h-5.6zM343.1 385.5h5.7v4.1h-5.7zM343.1 389.6h5.7v4.1h-5.7zM343.1 393.7h5.7v4.2h-5.7z"/><path fill="#3c3286" d="M382.5 274.4h5.7v4.1h-5.7zM365.6 286.8h5.7v4.1h-5.7zM371.3 360.8h5.6v4.1h-5.6z"/><path fill="#392a73" d="M365.6 282.6h5.7v4.2h-5.7zM365.6 311.4h5.7v4.2h-5.7zM388.2 327.9h11.2v4.1h-11.2zM365.6 360.8h5.7v4.1h-5.7zM371.3 381.4h5.6v4.1h-5.6z"/><path fill="#3b2f80" d="M365.6 290.9h5.7v4.1h-5.7zM376.9 369.1h5.6v4.1h-5.6zM410.7 393.7h5.6v4.2h-5.6zM365.6 402h5.7v4.1h-5.7z"/><path fill="#3a2d79" d="M371.3 348.5h5.6v4.1h-5.6z"/><path fill="#43f787" d="M194.3 360.8h3v4.1h-3z"/><path fill="#46f884" d="M197.3 360.8h3v4.1h-3z"/></g><path d="M72.1 75.50H80.50 M72.1 120.50H80.50 M72.1 165.50H80.50 M72.1 209.50H80.50 M72.1 254.50H80.50 M72.1 299.50H80.50 M72.1 344.50H80.50 M72.1 389.50H80.50 M76.1 79.50H80.50 M76.1 83.50H80.50 M76.1 88.50H80.50 M76.1 92.50H80.50 M76.1 97.50H80.50 M76.1 101.50H80.50 M76.1 106.50H80.50 M76.1 110.50H80.50 M76.1 115.50H80.50 M76.1 119.50H80.50 M76.1 124.50H80.50 M76.1 128.50H80.50 M76.1 133.50H80.50 M76.1 137.50H80.50 M76.1 142.50H80.50 M76.1 146.50H80.50 M76.1 150.50H80.50 M76.1 155.50H80.50 M76.1 159.50H80.50 M76.1 164.50H80.50 M76.1 168.50H80.50 M76.1 173.50H80.50 M76.1 177.50H80.50 M76.1 182.50H80.50 M76.1 186.50H80.50 M76.1 191.50H80.50 M76.1 195.50H80.50 M76.1 200.50H80.50 M76.1 204.50H80.50 M76.1 209.50H80.50 M76.1 213.50H80.50 M76.1 218.50H80.50 M76.1 222.50H80.50 M76.1 227.50H80.50 M76.1 231.50H80.50 M76.1 236.50H80.50 M76.1 240.50H80.50 M76.1 245.50H80.50 M76.1 249.50H80.50 M76.1 254.50H80.50 M76.1 258.50H80.50 M76.1 263.50H80.50 M76.1 267.50H80.50 M76.1 272.50H80.50 M76.1 276.50H80.50 M76.1 280.50H80.50 M76.1 285.50H80.50 M76.1 289.50H80.50 M76.1 294.50H80.50 M76.1 298.50H80.50 M76.1 303.50H80.50 M76.1 307.50H80.50 M76.1 312.50H80.50 M76.1 316.50H80.50 M76.1 321.50H80.50 M76.1 325.50H80.50 M76.1 330.50H80.50 M76.1 334.50H80.50 M76.1 339.50H80.50 M76.1 343.50H80.50 M76.1 348.50H80.50 M76.1 352.50H80.50 M76.1 357.50H80.50 M76.1 361.50H80.50 M76.1 366.50H80.50 M76.1 370.50H80.50 M76.1 375.50H80.50 M76.1 379.50H80.50 M76.1 384.50H80.50 M76.1 388.50H80.50 M76.1 393.50H80.50 M76.1 397.50H80.50 M76.1 402.50H80.50 M76.1 406.50H80.50 M76.1 410.50H80.50 M136.50 410.50V418.3 M199.50 410.50V418.3 M262.50 410.50V418.3 M326.50 410.50V418.3 M389.50 410.50V418.3 M80.50 410.50V414.4 M86.50 410.50V414.4 M92.50 410.50V414.4 M99.50 410.50V414.4 M105.50 410.50V414.4 M111.50 410.50V414.4 M118.50 410.50V414.4 M124.50 410.50V414.4 M130.50 410.50V414.4 M137.50 410.50V414.4 M143.50 410.50V414.4 M149.50 410.50V414.4 M156.50 410.50V414.4 M162.50 410.50V414.4 M168.50 410.50V414.4 M175.50 410.50V414.4 M181.50 410.50V414.4 M187.50 410.50V414.4 M193.50 410.50V414.4 M200.50 410.50V414.4 M206.50 410.50V414.4 M212.50 410.50V414.4 M219.50 410.50V414.4 M225.50 410.50V414.4 M231.50 410.50V414.4 M238.50 410.50V414.4 M244.50 410.50V414.4 M250.50 410.50V414.4 M257.50 410.50V414.4 M263.50 410.50V414.4 M269.50 410.50V414.4 M276.50 410.50V414.4 M282.50 410.50V414.4 M288.50 410.50V414.4 M295.50 410.50V414.4 M301.50 410.50V414.4 M307.50 410.50V414.4 M314.50 410.50V414.4 M320.50 410.50V414.4 M326.50 410.50V414.4 M333.50 410.50V414.4 M339.50 410.50V414.4 M345.50 410.50V414.4 M352.50 410.50V414.4 M358.50 410.50V414.4 M364.50 410.50V414.4 M371.50 410.50V414.4 M377.50 410.50V414.4 M383.50 410.50V414.4 M390.50 410.50V414.4 M396.50 410.50V414.4 M402.50 410.50V414.4 M409.50 410.50V414.4 M415.50 410.50V414.4 M421.50 410.50V414.4 M427.50 130.50H432.3 M427.50 190.50H432.3 M427.50 250.50H432.3 M427.50 310.50H432.3 M427.50 370.50H432.3" stroke="#000" stroke-width="1.10" fill="none"/><rect x="80.50" y="75.50" width="347.00" height="335.00" fill="none" stroke="#000" stroke-width="1.10"/><linearGradient id="cbg" x1="0" y1="0" x2="0" y2="1"><stop offset="0.0000" stop-color="#321543"/><stop offset="0.0156" stop-color="#850702"/><stop offset="0.0312" stop-color="#920b01"/><stop offset="0.0469" stop-color="#9e1001"/><stop offset="0.0625" stop-color="#a91601"/><stop offset="0.0781" stop-color="#b41b01"/><stop offset="0.0938" stop-color="#be2102"/><stop offset="0.1094" stop-color="#c82803"/><stop offset="0.1250" stop-color="#d02f05"/><stop offset="0.1406" stop-color="#d83706"/><stop offset="0.1562" stop-color="#df3f08"/><stop offset="0.1719" stop-color="#e5470b"/><stop offset="0.1875" stop-color="#eb500e"/><stop offset="0.2031" stop-color="#f05b12"/><stop offset="0.2188" stop-color="#f46617"/><stop offset="0.2344" stop-color="#f8721c"/><stop offset="0.2500" stop-color="#fb7e21"/><stop offset="0.2656" stop-color="#fd8a26"/><stop offset="0.2812" stop-color="#fe962b"/><stop offset="0.2969" stop-color="#fea130"/><stop offset="0.3125" stop-color="#fdac34"/><stop offset="0.3281" stop-color="#fbb637"/><stop offset="0.3438" stop-color="#f8be39"/><stop offset="0.3594" stop-color="#f4c73a"/><stop offset="0.3750" stop-color="#eecf3a"/><stop offset="0.3906" stop-color="#e7d739"/><stop offset="0.4062" stop-color="#dfdf37"/><stop offset="0.4219" stop-color="#d7e535"/><stop offset="0.4375" stop-color="#cdec34"/><stop offset="0.4531" stop-color="#c3f134"/><stop offset="0.4688" stop-color="#b9f635"/><stop offset="0.4844" stop-color="#affa37"/><stop offset="0.5000" stop-color="#a4fc3c"/><stop offset="0.5156" stop-color="#99fe42"/><stop offset="0.5312" stop-color="#8bff4b"/><stop offset="0.5469" stop-color="#7dff56"/><stop offset="0.5625" stop-color="#6dfe62"/><stop offset="0.5781" stop-color="#5dfc6f"/><stop offset="0.5938" stop-color="#4ef97d"/><stop offset="0.6094" stop-color="#3ff68a"/><stop offset="0.6250" stop-color="#32f298"/><stop offset="0.6406" stop-color="#27eea4"/><stop offset="0.6562" stop-color="#1fe9af"/><stop offset="0.6719" stop-color="#19e3b9"/><stop offset="0.6875" stop-color="#18ddc2"/><stop offset="0.7031" stop-color="#19d5cd"/><stop offset="0.7188" stop-color="#1ccdd8"/><stop offset="0.7344" stop-color="#22c5e2"/><stop offset="0.7500" stop-color="#28bceb"/><stop offset="0.7656" stop-color="#2fb2f4"/><stop offset="0.7812" stop-color="#37a8fa"/><stop offset="0.7969" stop-color="#3d9efe"/><stop offset="0.8125" stop-color="#4294ff"/><stop offset="0.8281" stop-color="#458afc"/><stop offset="0.8438" stop-color="#4680f6"/><stop offset="0.8594" stop-color="#4776ee"/><stop offset="0.8750" stop-color="#466be3"/><stop offset="0.8906" stop-color="#4661d6"/><stop offset="0.9062" stop-color="#4456c7"/><stop offset="0.9219" stop-color="#424bb5"/><stop offset="0.9375" stop-color="#4040a2"/><stop offset="0.9531" stop-color="#3d358b"/><stop offset="0.9688" stop-color="#392a73"/><stop offset="0.9844" stop-color="#351e58"/><stop offset="1.0000" stop-color="#30123b"/></linearGradient><rect x="502.50" y="76.50" width="16.00" height="333.00" fill="url(#cbg)" stroke="#000" stroke-width="1.10"/><path d="M518.50 76.50H523.4 M518.50 159.50H523.4 M518.50 243.50H523.4 M518.50 326.50H523.4 M518.50 409.50H523.4" stroke="#000" stroke-width="1.10" fill="none"/><g style="filter:grayscale(1)"><text x="8.50" y="53.90" font-size="10.90" textLength="488.00" lengthAdjust="spacingAndGlyphs">Orbit:21956, 2021-05-17, 04:26:21 SZA:66.86 Altitude:1086 Lat: 76.25 W.Lon: 268.23</text><text x="66.60" y="80.00" font-size="14.00" textLength="20.50" lengthAdjust="spacingAndGlyphs" text-anchor="end">0.0</text><text x="66.60" y="124.83" font-size="14.00" textLength="20.50" lengthAdjust="spacingAndGlyphs" text-anchor="end">1.0</text><text x="66.60" y="169.66" font-size="14.00" textLength="20.50" lengthAdjust="spacingAndGlyphs" text-anchor="end">2.0</text><text x="66.60" y="214.49" font-size="14.00" textLength="20.50" lengthAdjust="spacingAndGlyphs" text-anchor="end">3.0</text><text x="66.60" y="259.32" font-size="14.00" textLength="20.50" lengthAdjust="spacingAndGlyphs" text-anchor="end">4.0</text><text x="66.60" y="304.15" font-size="14.00" textLength="20.50" lengthAdjust="spacingAndGlyphs" text-anchor="end">5.0</text><text x="66.60" y="348.98" font-size="14.00" textLength="20.50" lengthAdjust="spacingAndGlyphs" text-anchor="end">6.0</text><text x="66.60" y="393.81" font-size="14.00" textLength="20.50" lengthAdjust="spacingAndGlyphs" text-anchor="end">7.0</text><text x="136.40" y="434.00" font-size="14.00" textLength="20.50" lengthAdjust="spacingAndGlyphs" text-anchor="middle">1.0</text><text x="199.68" y="434.00" font-size="14.00" textLength="20.50" lengthAdjust="spacingAndGlyphs" text-anchor="middle">2.0</text><text x="262.96" y="434.00" font-size="14.00" textLength="20.50" lengthAdjust="spacingAndGlyphs" text-anchor="middle">3.0</text><text x="326.24" y="434.00" font-size="14.00" textLength="20.50" lengthAdjust="spacingAndGlyphs" text-anchor="middle">4.0</text><text x="389.52" y="434.00" font-size="14.00" textLength="20.50" lengthAdjust="spacingAndGlyphs" text-anchor="middle">5.0</text><text x="437.00" y="135.98" font-size="14.00" textLength="25.10" lengthAdjust="spacingAndGlyphs">200</text><text x="437.00" y="195.95" font-size="14.00" textLength="25.10" lengthAdjust="spacingAndGlyphs">400</text><text x="437.00" y="255.93" font-size="14.00" textLength="25.10" lengthAdjust="spacingAndGlyphs">600</text><text x="437.00" y="315.90" font-size="14.00" textLength="25.10" lengthAdjust="spacingAndGlyphs">800</text><text x="437.00" y="375.88" font-size="14.00" textLength="33.00" lengthAdjust="spacingAndGlyphs">1000</text><text x="195.00" y="454.30" font-size="14.00" textLength="117.00" lengthAdjust="spacingAndGlyphs">Frequency (MHz)</text><text x="470.00" y="477.60" font-size="6.00" textLength="63.50" lengthAdjust="spacingAndGlyphs">Uni of LEICESTER</text><text transform="translate(34.80 301.50) rotate(-90)" x="0" y="0" font-size="14.00" textLength="114.00" lengthAdjust="spacingAndGlyphs">Time Delay (ms)</text><text transform="translate(488.00 316.50) rotate(-90)" x="0" y="0" font-size="14.00" textLength="146.50" lengthAdjust="spacingAndGlyphs">Apparent range (km)</text><text x="529.50" y="83.15" font-size="14.00" textLength="17.00" lengthAdjust="spacingAndGlyphs">10</text><text x="546.50" y="77.65" font-size="10.40" textLength="6.60" lengthAdjust="spacingAndGlyphs">−</text><text x="554.20" y="77.65" font-size="10.40" textLength="6.20" lengthAdjust="spacingAndGlyphs">9</text><text x="529.50" y="166.39" font-size="14.00" textLength="17.00" lengthAdjust="spacingAndGlyphs">10</text><text x="546.50" y="160.89" font-size="10.40" textLength="6.60" lengthAdjust="spacingAndGlyphs">−</text><text x="554.20" y="160.89" font-size="10.40" textLength="12.40" lengthAdjust="spacingAndGlyphs">11</text><text x="529.50" y="249.62" font-size="14.00" textLength="17.00" lengthAdjust="spacingAndGlyphs">10</text><text x="546.50" y="244.12" font-size="10.40" textLength="6.60" lengthAdjust="spacingAndGlyphs">−</text><text x="554.20" y="244.12" font-size="10.40" textLength="12.40" lengthAdjust="spacingAndGlyphs">13</text><text x="529.50" y="332.86" font-size="14.00" textLength="17.00" lengthAdjust="spacingAndGlyphs">10</text><text x="546.50" y="327.36" font-size="10.40" textLength="6.60" lengthAdjust="spacingAndGlyphs">−</text><text x="554.20" y="327.36" font-size="10.40" textLength="12.40" lengthAdjust="spacingAndGlyphs">15</text><text x="529.50" y="416.10" font-size="14.00" textLength="17.00" lengthAdjust="spacingAndGlyphs">10</text><text x="546.50" y="410.60" font-size="10.40" textLength="6.60" lengthAdjust="spacingAndGlyphs">−</text><text x="554.20" y="410.60" font-size="10.40" textLength="12.40" lengthAdjust="spacingAndGlyphs">17</text><text x="467.80" y="449.70" font-size="14.00" textLength="7.00" lengthAdjust="spacingAndGlyphs">v</text><text x="474.30" y="445.20" font-size="9.80" textLength="6.60" lengthAdjust="spacingAndGlyphs">2</text><text x="487.60" y="449.70" font-size="14.00" textLength="12.40" lengthAdjust="spacingAndGlyphs">m</text><text x="501.70" y="444.50" font-size="9.80" textLength="6.60" lengthAdjust="spacingAndGlyphs">−</text><text x="508.80" y="445.20" font-size="9.80" textLength="6.20" lengthAdjust="spacingAndGlyphs">2</text><text x="520.00" y="449.70" font-size="14.00" textLength="17.00" lengthAdjust="spacingAndGlyphs">Hz</text><text x="538.00" y="444.50" font-size="9.80" textLength="6.60" lengthAdjust="spacingAndGlyphs">−</text><text x="545.30" y="445.20" font-size="9.80" textLength="6.00" lengthAdjust="spacingAndGlyphs">1</text></g></svg>
</body></html>
